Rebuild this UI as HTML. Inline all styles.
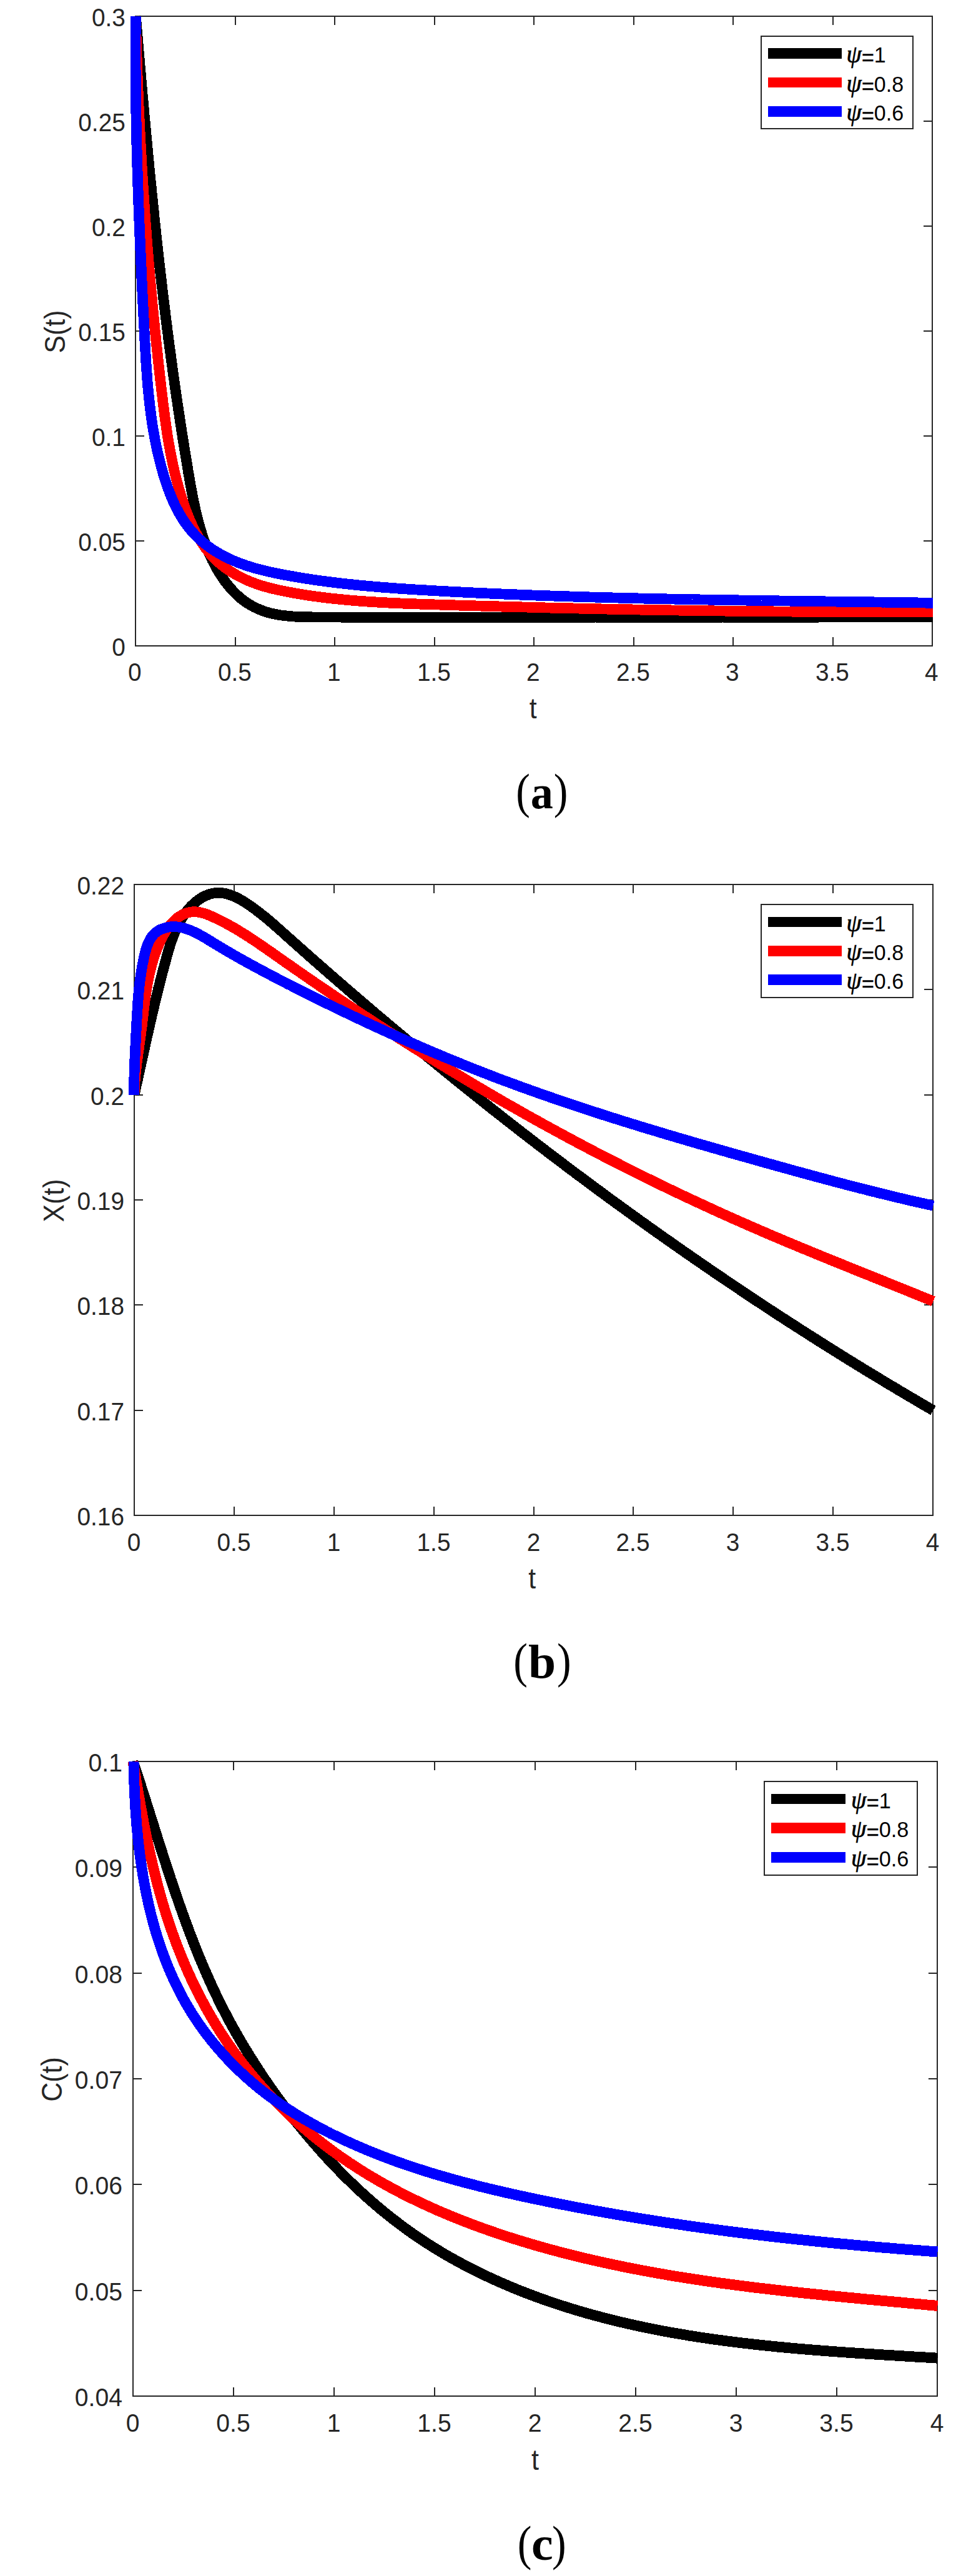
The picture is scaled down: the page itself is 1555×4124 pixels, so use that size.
<!DOCTYPE html>
<html><head><meta charset="utf-8"><title>Figure</title>
<style>
html,body{margin:0;padding:0;background:#fff;}
svg{display:block;font-family:"Liberation Sans",sans-serif;}
.psi{font-family:"Liberation Serif",serif;font-style:italic;stroke:#000;stroke-width:0.7px;}
.cap{font-family:"Liberation Serif",serif;fill:#000;}
.capb{font-weight:bold;font-size:76px;}
</style></head><body>
<svg width="1555" height="4124" viewBox="0 0 1555 4124">
<rect width="1555" height="4124" fill="#fff"/>
<rect x="217" y="26" width="1276" height="1008" fill="none" stroke="#262626" stroke-width="2"/>
<path d="M377 1034 v-14.0 M377 26 v14.0 M536 1034 v-14.0 M536 26 v14.0 M696 1034 v-14.0 M696 26 v14.0 M855 1034 v-14.0 M855 26 v14.0 M1015 1034 v-14.0 M1015 26 v14.0 M1174 1034 v-14.0 M1174 26 v14.0 M1334 1034 v-14.0 M1334 26 v14.0 M217 194 h14.0 M1493 194 h-14.0 M217 362 h14.0 M1493 362 h-14.0 M217 530 h14.0 M1493 530 h-14.0 M217 698 h14.0 M1493 698 h-14.0 M217 866 h14.0 M1493 866 h-14.0" stroke="#262626" stroke-width="2" fill="none"/>
<g fill="#262626">
<text transform="translate(215.9 1090.0) scale(1 1.035)" text-anchor="middle" font-size="38.8">0</text>
<text transform="translate(375.9 1090.0) scale(1 1.035)" text-anchor="middle" font-size="38.8">0.5</text>
<text transform="translate(534.9 1090.0) scale(1 1.035)" text-anchor="middle" font-size="38.8">1</text>
<text transform="translate(694.9 1090.0) scale(1 1.035)" text-anchor="middle" font-size="38.8">1.5</text>
<text transform="translate(853.9 1090.0) scale(1 1.035)" text-anchor="middle" font-size="38.8">2</text>
<text transform="translate(1013.9 1090.0) scale(1 1.035)" text-anchor="middle" font-size="38.8">2.5</text>
<text transform="translate(1172.9 1090.0) scale(1 1.035)" text-anchor="middle" font-size="38.8">3</text>
<text transform="translate(1332.9 1090.0) scale(1 1.035)" text-anchor="middle" font-size="38.8">3.5</text>
<text transform="translate(1491.9 1090.0) scale(1 1.035)" text-anchor="middle" font-size="38.8">4</text>
<text transform="translate(200.8 41.6) scale(1 1.035)" text-anchor="end" font-size="38.8">0.3</text>
<text transform="translate(200.8 209.6) scale(1 1.035)" text-anchor="end" font-size="38.8">0.25</text>
<text transform="translate(200.8 377.6) scale(1 1.035)" text-anchor="end" font-size="38.8">0.2</text>
<text transform="translate(200.8 545.6) scale(1 1.035)" text-anchor="end" font-size="38.8">0.15</text>
<text transform="translate(200.8 713.6) scale(1 1.035)" text-anchor="end" font-size="38.8">0.1</text>
<text transform="translate(200.8 881.6) scale(1 1.035)" text-anchor="end" font-size="38.8">0.05</text>
<text transform="translate(200.8 1049.6) scale(1 1.035)" text-anchor="end" font-size="38.8">0</text>
<text transform="translate(853.7 1149.6) scale(1 1.08)" text-anchor="middle" font-size="42.7">t</text>
<text transform="translate(103.7 531.0) rotate(-90) scale(1 1.08)" text-anchor="middle" font-size="42.7">S(t)</text>
</g>
<path d="M217.3 26.0 L217.7 30.2 L218.0 34.4 L218.4 38.5 L218.7 42.7 L219.1 46.9 L219.4 51.1 L219.8 55.3 L220.2 59.4 L220.5 63.6 L220.9 67.8 L221.2 72.0 L221.6 76.1 L221.9 80.3 L222.3 84.5 L222.7 88.6 L223.0 92.8 L223.4 96.9 L223.8 101.1 L224.1 105.3 L224.5 109.4 L224.8 113.6 L225.2 117.7 L225.6 121.9 L225.9 126.1 L226.3 130.2 L226.7 134.4 L227.0 138.5 L227.4 142.7 L227.8 146.8 L228.1 151.0 L228.5 155.1 L228.9 159.2 L229.3 163.4 L229.6 167.5 L230.0 171.7 L230.4 175.8 L230.8 180.0 L231.1 184.1 L231.5 188.2 L231.9 192.4 L232.3 196.5 L232.7 200.6 L233.0 204.8 L233.4 208.9 L233.8 213.1 L234.2 217.2 L234.6 221.3 L235.0 225.4 L235.4 229.6 L235.8 233.7 L236.1 237.8 L236.5 242.0 L236.9 246.1 L237.3 250.2 L237.7 254.3 L238.1 258.5 L238.5 262.6 L238.9 266.7 L239.3 270.8 L239.7 275.0 L240.1 279.1 L240.5 283.2 L240.9 287.3 L241.4 291.4 L241.8 295.6 L242.2 299.7 L242.6 303.8 L243.0 307.9 L243.4 312.0 L243.8 316.1 L244.3 320.3 L244.7 324.4 L245.1 328.5 L245.5 332.6 L246.0 336.7 L246.4 340.8 L246.8 345.0 L247.2 349.1 L247.7 353.2 L248.1 357.3 L248.5 361.4 L249.0 365.5 L249.4 369.6 L249.9 373.7 L250.3 377.8 L250.8 382.0 L251.2 386.1 L251.7 390.2 L252.1 394.3 L252.6 398.4 L253.0 402.5 L253.5 406.6 L253.9 410.7 L254.4 414.8 L254.9 418.9 L255.3 423.0 L255.8 427.2 L256.3 431.3 L256.7 435.4 L257.2 439.5 L257.7 443.6 L258.2 447.7 L258.6 451.8 L259.1 455.9 L259.6 460.0 L260.1 464.1 L260.6 468.2 L261.1 472.3 L261.6 476.4 L262.1 480.6 L262.6 484.7 L263.1 488.8 L263.6 492.9 L264.1 497.0 L264.6 501.1 L265.1 505.2 L265.6 509.3 L266.1 513.4 L266.7 517.5 L267.2 521.6 L267.7 525.7 L268.2 529.9 L268.8 534.0 L269.3 538.1 L269.8 542.2 L270.4 546.3 L270.9 550.4 L271.4 554.5 L272.0 558.6 L272.5 562.7 L273.1 566.8 L273.6 571.0 L274.2 575.1 L274.8 579.2 L275.3 583.3 L275.9 587.4 L276.4 591.5 L277.0 595.6 L277.6 599.8 L278.2 603.9 L278.8 608.0 L279.3 612.1 L279.9 616.2 L280.5 620.3 L281.1 624.5 L281.7 628.6 L282.3 632.7 L282.9 636.8 L283.5 640.9 L284.1 645.1 L284.7 649.2 L285.3 653.3 L285.9 657.4 L286.6 661.6 L287.2 665.7 L287.8 669.8 L288.4 673.9 L289.1 678.1 L289.7 682.2 L290.3 686.3 L291.0 690.4 L291.6 694.6 L292.3 698.7 L292.9 702.8 L293.6 707.0 L294.3 711.1 L294.9 715.2 L295.6 719.4 L296.3 723.5 L296.9 727.6 L297.6 731.8 L298.3 735.9 L299.0 740.1 L299.7 744.2 L300.4 748.3 L301.0 752.5 L301.7 756.6 L302.4 760.8 L303.2 764.9 L303.9 769.1 L304.6 773.2 L305.3 777.3 L306.1 781.5 L306.8 785.6 L307.6 789.7 L308.4 793.9 L309.2 798.0 L310.0 802.1 L310.9 806.2 L311.7 810.3 L312.6 814.4 L313.6 818.5 L314.5 822.5 L315.5 826.6 L316.5 830.7 L317.5 834.7 L318.6 838.7 L319.7 842.7 L320.9 846.7 L322.1 850.7 L323.3 854.6 L324.6 858.6 L325.9 862.5 L327.3 866.4 L328.7 870.3 L330.2 874.2 L331.7 878.0 L333.2 881.8 L334.9 885.6 L336.6 889.4 L338.3 893.2 L340.1 896.9 L342.0 900.6 L343.9 904.3 L345.9 907.9 L347.9 911.5 L350.0 915.1 L352.2 918.7 L354.5 922.2 L356.8 925.7 L359.2 929.1 L361.7 932.5 L364.3 935.8 L366.9 939.0 L369.6 942.2 L372.3 945.2 L375.2 948.2 L378.1 951.1 L381.1 953.9 L384.1 956.6 L387.3 959.2 L390.5 961.7 L393.8 964.0 L397.1 966.2 L400.6 968.3 L404.1 970.3 L407.6 972.2 L411.2 973.9 L414.9 975.5 L418.6 977.0 L422.3 978.4 L426.1 979.6 L430.0 980.8 L433.8 981.8 L437.8 982.7 L441.7 983.5 L445.7 984.2 L449.7 984.9 L453.8 985.4 L457.9 985.9 L462.0 986.3 L466.1 986.7 L470.3 987.0 L474.4 987.2 L478.6 987.4 L482.8 987.6 L487.0 987.7 L491.2 987.8 L495.4 987.8 L499.7 987.9 L503.9 987.9 L508.1 987.9 L512.4 987.9 L516.6 988.0 L520.8 988.0 L525.1 988.0 L529.3 988.0 L533.5 988.0 L537.7 988.0 L541.9 988.0 L546.1 988.1 L550.4 988.1 L554.6 988.1 L558.8 988.1 L563.0 988.1 L567.2 988.1 L571.4 988.1 L575.6 988.1 L579.8 988.2 L584.0 988.2 L588.2 988.2 L592.4 988.2 L596.6 988.2 L600.7 988.2 L604.9 988.2 L609.1 988.2 L613.3 988.2 L617.5 988.2 L621.7 988.2 L625.9 988.2 L630.0 988.3 L634.2 988.3 L638.4 988.3 L642.6 988.3 L646.7 988.3 L650.9 988.3 L655.1 988.3 L659.2 988.3 L663.4 988.3 L667.6 988.3 L671.7 988.3 L675.9 988.3 L680.1 988.3 L684.2 988.3 L688.4 988.3 L692.5 988.3 L696.7 988.3 L700.9 988.3 L705.0 988.3 L709.2 988.3 L713.3 988.3 L717.5 988.3 L721.6 988.3 L725.8 988.3 L729.9 988.3 L734.1 988.3 L738.2 988.3 L742.4 988.3 L746.5 988.3 L750.7 988.3 L754.8 988.3 L759.0 988.3 L763.1 988.3 L767.2 988.3 L771.4 988.3 L775.5 988.3 L779.7 988.3 L783.8 988.3 L788.0 988.3 L792.1 988.3 L796.2 988.3 L800.4 988.3 L804.5 988.3 L808.6 988.3 L812.8 988.3 L816.9 988.3 L821.1 988.3 L825.2 988.3 L829.3 988.3 L833.5 988.2 L837.6 988.2 L841.7 988.2 L845.9 988.2 L850.0 988.2 L854.2 988.2 L858.3 988.2 L862.4 988.2 L866.6 988.2 L870.7 988.2 L874.8 988.2 L879.0 988.2 L883.1 988.2 L887.3 988.2 L891.4 988.2 L895.5 988.2 L899.7 988.2 L903.8 988.2 L907.9 988.2 L912.1 988.2 L916.2 988.2 L920.4 988.2 L924.5 988.2 L928.6 988.2 L932.8 988.2 L936.9 988.2 L941.1 988.2 L945.2 988.2 L949.3 988.2 L953.5 988.1 L957.6 988.1 L961.8 988.1 L965.9 988.1 L970.1 988.1 L974.2 988.1 L978.4 988.1 L982.5 988.1 L986.7 988.1 L990.8 988.1 L995.0 988.1 L999.1 988.1 L1003.3 988.1 L1007.4 988.1 L1011.6 988.1 L1015.7 988.1 L1019.9 988.1 L1024.0 988.1 L1028.2 988.1 L1032.3 988.1 L1036.5 988.1 L1040.7 988.1 L1044.8 988.1 L1049.0 988.1 L1053.1 988.1 L1057.3 988.1 L1061.4 988.1 L1065.6 988.1 L1069.8 988.1 L1073.9 988.1 L1078.1 988.1 L1082.2 988.1 L1086.4 988.1 L1090.6 988.1 L1094.7 988.1 L1098.9 988.1 L1103.1 988.1 L1107.2 988.1 L1111.4 988.1 L1115.6 988.1 L1119.7 988.1 L1123.9 988.1 L1128.0 988.1 L1132.2 988.1 L1136.4 988.1 L1140.5 988.1 L1144.7 988.1 L1148.9 988.1 L1153.0 988.1 L1157.2 988.1 L1161.4 988.2 L1165.5 988.2 L1169.7 988.2 L1173.9 988.2 L1178.0 988.1 L1182.2 988.1 L1186.4 988.1 L1190.5 988.1 L1194.7 988.1 L1198.9 988.1 L1203.1 988.1 L1207.2 988.1 L1211.4 988.1 L1215.6 988.1 L1219.7 988.1 L1223.9 988.1 L1228.1 988.1 L1232.2 988.1 L1236.4 988.1 L1240.6 988.1 L1244.7 988.1 L1248.9 988.1 L1253.1 988.1 L1257.2 988.1 L1261.4 988.1 L1265.6 988.1 L1269.7 988.1 L1273.9 988.1 L1278.1 988.1 L1282.2 988.1 L1286.4 988.1 L1290.6 988.1 L1294.7 988.1 L1298.9 988.1 L1303.0 988.1 L1307.2 988.1 L1311.4 988.1 L1315.5 988.0 L1319.7 988.0 L1323.9 988.0 L1328.0 988.0 L1332.2 988.0 L1336.3 988.0 L1340.5 988.0 L1344.7 988.0 L1348.8 988.0 L1353.0 988.0 L1357.1 988.0 L1361.3 988.0 L1365.5 987.9 L1369.6 987.9 L1373.8 987.9 L1377.9 987.9 L1382.1 987.9 L1386.2 987.9 L1390.4 987.9 L1394.5 987.9 L1398.7 987.8 L1402.8 987.8 L1407.0 987.8 L1411.1 987.8 L1415.3 987.8 L1419.4 987.8 L1423.6 987.8 L1427.7 987.7 L1431.9 987.7 L1436.0 987.7 L1440.2 987.7 L1444.3 987.7 L1448.5 987.6 L1452.6 987.6 L1456.8 987.6 L1460.9 987.6 L1465.0 987.6 L1469.2 987.5 L1473.3 987.5 L1477.5 987.5 L1481.6 987.5 L1485.7 987.4 L1489.9 987.4 L1494.0 987.4" fill="none" stroke="#000" stroke-width="16.80" stroke-linejoin="round" shape-rendering="crispEdges"/>
<path d="M217.3 26.0 L217.4 30.1 L217.5 34.2 L217.6 38.3 L217.7 42.5 L217.8 46.6 L217.9 50.7 L218.0 54.8 L218.1 58.9 L218.2 63.0 L218.4 67.1 L218.5 71.2 L218.6 75.4 L218.7 79.5 L218.9 83.6 L219.0 87.7 L219.1 91.8 L219.3 95.9 L219.4 100.0 L219.5 104.1 L219.7 108.2 L219.8 112.4 L220.0 116.5 L220.1 120.6 L220.3 124.7 L220.4 128.8 L220.6 132.9 L220.7 137.0 L220.9 141.1 L221.1 145.3 L221.2 149.4 L221.4 153.5 L221.6 157.6 L221.8 161.7 L222.0 165.8 L222.1 169.9 L222.3 174.0 L222.5 178.1 L222.7 182.3 L222.9 186.4 L223.1 190.5 L223.3 194.6 L223.5 198.7 L223.7 202.8 L223.9 206.9 L224.1 211.0 L224.3 215.1 L224.5 219.2 L224.7 223.4 L225.0 227.5 L225.2 231.6 L225.4 235.7 L225.6 239.8 L225.9 243.9 L226.1 248.0 L226.3 252.1 L226.6 256.2 L226.8 260.3 L227.0 264.4 L227.3 268.5 L227.5 272.7 L227.8 276.8 L228.0 280.9 L228.3 285.0 L228.6 289.1 L228.8 293.2 L229.1 297.3 L229.3 301.4 L229.6 305.5 L229.9 309.6 L230.2 313.7 L230.4 317.8 L230.7 321.9 L231.0 326.0 L231.3 330.1 L231.6 334.2 L231.9 338.3 L232.1 342.4 L232.4 346.6 L232.7 350.7 L233.0 354.8 L233.3 358.9 L233.6 363.0 L234.0 367.1 L234.3 371.2 L234.6 375.3 L234.9 379.4 L235.2 383.5 L235.5 387.6 L235.9 391.7 L236.2 395.8 L236.5 399.9 L236.8 404.0 L237.2 408.1 L237.5 412.2 L237.9 416.3 L238.2 420.4 L238.5 424.5 L238.9 428.6 L239.2 432.7 L239.6 436.8 L239.9 440.9 L240.3 445.0 L240.7 449.1 L241.0 453.2 L241.4 457.3 L241.8 461.4 L242.1 465.4 L242.5 469.5 L242.9 473.6 L243.3 477.7 L243.7 481.8 L244.0 485.9 L244.4 490.0 L244.8 494.1 L245.2 498.2 L245.6 502.3 L246.0 506.4 L246.4 510.5 L246.8 514.6 L247.2 518.7 L247.6 522.8 L248.0 526.8 L248.4 530.9 L248.9 535.0 L249.3 539.1 L249.7 543.2 L250.1 547.3 L250.6 551.4 L251.0 555.5 L251.4 559.6 L251.9 563.6 L252.3 567.7 L252.7 571.8 L253.2 575.9 L253.6 580.0 L254.1 584.1 L254.5 588.2 L255.0 592.2 L255.4 596.3 L255.9 600.4 L256.4 604.5 L256.8 608.6 L257.3 612.7 L257.8 616.7 L258.2 620.8 L258.7 624.9 L259.2 629.0 L259.7 633.1 L260.2 637.1 L260.6 641.2 L261.1 645.3 L261.6 649.4 L262.2 653.5 L262.7 657.5 L263.2 661.6 L263.7 665.7 L264.3 669.8 L264.8 673.8 L265.4 677.9 L266.0 682.0 L266.6 686.0 L267.2 690.1 L267.8 694.2 L268.4 698.2 L269.1 702.3 L269.8 706.3 L270.4 710.4 L271.2 714.4 L271.9 718.5 L272.6 722.5 L273.4 726.6 L274.2 730.6 L275.0 734.6 L275.8 738.7 L276.7 742.7 L277.5 746.7 L278.5 750.8 L279.4 754.8 L280.3 758.8 L281.3 762.8 L282.3 766.8 L283.4 770.8 L284.5 774.8 L285.6 778.8 L286.7 782.8 L287.9 786.8 L289.1 790.8 L290.3 794.8 L291.6 798.8 L292.9 802.8 L294.2 806.7 L295.6 810.7 L297.0 814.6 L298.4 818.6 L299.9 822.5 L301.5 826.4 L303.1 830.2 L304.7 834.1 L306.4 837.9 L308.1 841.7 L309.9 845.4 L311.8 849.1 L313.7 852.8 L315.7 856.4 L317.7 860.0 L319.8 863.5 L322.0 867.0 L324.2 870.4 L326.5 873.7 L328.8 877.0 L331.3 880.2 L333.8 883.4 L336.4 886.5 L339.0 889.5 L341.8 892.4 L344.6 895.3 L347.5 898.0 L350.4 900.7 L353.5 903.3 L356.6 905.8 L359.8 908.3 L363.1 910.7 L366.4 913.0 L369.8 915.2 L373.2 917.3 L376.7 919.4 L380.3 921.4 L383.9 923.3 L387.5 925.1 L391.2 926.9 L394.9 928.6 L398.7 930.2 L402.5 931.8 L406.4 933.2 L410.2 934.7 L414.2 936.0 L418.1 937.3 L422.0 938.5 L426.0 939.6 L430.0 940.7 L434.0 941.8 L438.1 942.7 L442.1 943.7 L446.2 944.6 L450.2 945.5 L454.3 946.3 L458.4 947.1 L462.5 947.9 L466.5 948.6 L470.6 949.4 L474.7 950.1 L478.8 950.8 L482.8 951.5 L486.9 952.1 L491.0 952.8 L495.1 953.4 L499.2 954.0 L503.3 954.6 L507.4 955.1 L511.4 955.7 L515.5 956.2 L519.6 956.7 L523.7 957.2 L527.8 957.7 L531.9 958.1 L536.0 958.6 L540.1 959.0 L544.2 959.4 L548.3 959.8 L552.4 960.2 L556.5 960.6 L560.6 961.0 L564.7 961.3 L568.8 961.7 L572.9 962.0 L577.0 962.3 L581.1 962.6 L585.2 962.9 L589.3 963.2 L593.4 963.4 L597.5 963.7 L601.6 963.9 L605.7 964.2 L609.8 964.4 L613.9 964.6 L618.0 964.8 L622.1 965.1 L626.2 965.3 L630.3 965.4 L634.4 965.6 L638.5 965.8 L642.6 966.0 L646.8 966.2 L650.9 966.3 L655.0 966.5 L659.1 966.6 L663.2 966.8 L667.3 966.9 L671.4 967.1 L675.5 967.2 L679.6 967.3 L683.7 967.5 L687.8 967.6 L692.0 967.7 L696.1 967.9 L700.2 968.0 L704.3 968.1 L708.4 968.3 L712.5 968.4 L716.6 968.5 L720.7 968.7 L724.8 968.8 L728.9 968.9 L733.1 969.0 L737.2 969.2 L741.3 969.3 L745.4 969.4 L749.5 969.5 L753.6 969.6 L757.7 969.8 L761.8 969.9 L765.9 970.0 L770.1 970.1 L774.2 970.2 L778.3 970.4 L782.4 970.5 L786.5 970.6 L790.6 970.7 L794.7 970.8 L798.8 970.9 L802.9 971.1 L807.1 971.2 L811.2 971.3 L815.3 971.4 L819.4 971.5 L823.5 971.6 L827.6 971.7 L831.7 971.8 L835.8 971.9 L839.9 972.0 L844.1 972.1 L848.2 972.3 L852.3 972.4 L856.4 972.5 L860.5 972.6 L864.6 972.7 L868.7 972.8 L872.8 972.9 L877.0 973.0 L881.1 973.1 L885.2 973.2 L889.3 973.3 L893.4 973.4 L897.5 973.5 L901.6 973.6 L905.7 973.6 L909.9 973.7 L914.0 973.8 L918.1 973.9 L922.2 974.0 L926.3 974.1 L930.4 974.2 L934.5 974.3 L938.6 974.4 L942.8 974.5 L946.9 974.6 L951.0 974.6 L955.1 974.7 L959.2 974.8 L963.3 974.9 L967.4 975.0 L971.5 975.1 L975.7 975.1 L979.8 975.2 L983.9 975.3 L988.0 975.4 L992.1 975.5 L996.2 975.6 L1000.3 975.6 L1004.4 975.7 L1008.6 975.8 L1012.7 975.9 L1016.8 975.9 L1020.9 976.0 L1025.0 976.1 L1029.1 976.2 L1033.2 976.2 L1037.4 976.3 L1041.5 976.4 L1045.6 976.4 L1049.7 976.5 L1053.8 976.6 L1057.9 976.6 L1062.0 976.7 L1066.1 976.8 L1070.3 976.8 L1074.4 976.9 L1078.5 977.0 L1082.6 977.0 L1086.7 977.1 L1090.8 977.2 L1094.9 977.2 L1099.1 977.3 L1103.2 977.3 L1107.3 977.4 L1111.4 977.5 L1115.5 977.5 L1119.6 977.6 L1123.7 977.6 L1127.9 977.7 L1132.0 977.7 L1136.1 977.8 L1140.2 977.8 L1144.3 977.9 L1148.4 977.9 L1152.5 978.0 L1156.6 978.0 L1160.8 978.1 L1164.9 978.1 L1169.0 978.2 L1173.1 978.2 L1177.2 978.3 L1181.3 978.3 L1185.4 978.4 L1189.6 978.4 L1193.7 978.4 L1197.8 978.5 L1201.9 978.5 L1206.0 978.6 L1210.1 978.6 L1214.2 978.6 L1218.4 978.7 L1222.5 978.7 L1226.6 978.8 L1230.7 978.8 L1234.8 978.8 L1238.9 978.9 L1243.0 978.9 L1247.2 978.9 L1251.3 979.0 L1255.4 979.0 L1259.5 979.0 L1263.6 979.0 L1267.7 979.1 L1271.8 979.1 L1276.0 979.1 L1280.1 979.2 L1284.2 979.2 L1288.3 979.2 L1292.4 979.2 L1296.5 979.2 L1300.6 979.3 L1304.8 979.3 L1308.9 979.3 L1313.0 979.3 L1317.1 979.4 L1321.2 979.4 L1325.3 979.4 L1329.4 979.4 L1333.6 979.4 L1337.7 979.4 L1341.8 979.4 L1345.9 979.5 L1350.0 979.5 L1354.1 979.5 L1358.2 979.5 L1362.4 979.5 L1366.5 979.5 L1370.6 979.5 L1374.7 979.5 L1378.8 979.5 L1382.9 979.5 L1387.0 979.5 L1391.1 979.6 L1395.3 979.6 L1399.4 979.6 L1403.5 979.6 L1407.6 979.6 L1411.7 979.6 L1415.8 979.6 L1419.9 979.6 L1424.1 979.6 L1428.2 979.6 L1432.3 979.6 L1436.4 979.5 L1440.5 979.5 L1444.6 979.5 L1448.7 979.5 L1452.9 979.5 L1457.0 979.5 L1461.1 979.5 L1465.2 979.5 L1469.3 979.5 L1473.4 979.5 L1477.5 979.5 L1481.7 979.4 L1485.8 979.4 L1489.9 979.4 L1494.0 979.4" fill="none" stroke="#f00" stroke-width="16.80" stroke-linejoin="round" shape-rendering="crispEdges"/>
<path d="M217.3 26.0 L217.3 30.1 L217.2 34.3 L217.2 38.4 L217.1 42.5 L217.1 46.6 L217.1 50.7 L217.1 54.9 L217.0 59.0 L217.0 63.1 L217.0 67.2 L217.0 71.3 L217.0 75.4 L217.0 79.6 L217.0 83.7 L217.0 87.8 L217.0 91.9 L217.0 96.0 L217.0 100.1 L217.0 104.2 L217.0 108.3 L217.1 112.4 L217.1 116.5 L217.1 120.6 L217.1 124.8 L217.2 128.9 L217.2 133.0 L217.2 137.1 L217.3 141.2 L217.3 145.3 L217.4 149.4 L217.4 153.5 L217.5 157.6 L217.5 161.7 L217.6 165.8 L217.7 169.9 L217.7 174.0 L217.8 178.1 L217.9 182.2 L217.9 186.2 L218.0 190.3 L218.1 194.4 L218.2 198.5 L218.3 202.6 L218.3 206.7 L218.4 210.8 L218.5 214.9 L218.6 219.0 L218.7 223.1 L218.8 227.2 L218.9 231.3 L219.0 235.4 L219.1 239.5 L219.2 243.5 L219.3 247.6 L219.4 251.7 L219.6 255.8 L219.7 259.9 L219.8 264.0 L219.9 268.1 L220.0 272.2 L220.2 276.3 L220.3 280.3 L220.4 284.4 L220.6 288.5 L220.7 292.6 L220.8 296.7 L221.0 300.8 L221.1 304.9 L221.2 309.0 L221.4 313.1 L221.5 317.1 L221.7 321.2 L221.8 325.3 L222.0 329.4 L222.1 333.5 L222.3 337.6 L222.4 341.7 L222.6 345.8 L222.8 349.8 L222.9 353.9 L223.1 358.0 L223.2 362.1 L223.4 366.2 L223.6 370.3 L223.8 374.4 L223.9 378.5 L224.1 382.5 L224.3 386.6 L224.4 390.7 L224.6 394.8 L224.8 398.9 L225.0 403.0 L225.2 407.1 L225.3 411.2 L225.5 415.3 L225.7 419.4 L225.9 423.5 L226.1 427.5 L226.3 431.6 L226.5 435.7 L226.7 439.8 L226.8 443.9 L227.0 448.0 L227.2 452.1 L227.4 456.2 L227.6 460.3 L227.8 464.4 L228.0 468.5 L228.2 472.6 L228.4 476.7 L228.6 480.8 L228.8 484.9 L229.0 489.0 L229.2 493.1 L229.4 497.2 L229.6 501.3 L229.8 505.4 L230.1 509.5 L230.3 513.6 L230.5 517.7 L230.7 521.8 L230.9 525.9 L231.1 530.0 L231.3 534.1 L231.5 538.2 L231.7 542.3 L232.0 546.4 L232.2 550.6 L232.4 554.7 L232.6 558.8 L232.9 562.9 L233.1 567.0 L233.3 571.1 L233.6 575.2 L233.8 579.3 L234.1 583.4 L234.4 587.5 L234.7 591.6 L235.0 595.7 L235.3 599.9 L235.6 604.0 L235.9 608.1 L236.2 612.2 L236.6 616.3 L236.9 620.4 L237.3 624.5 L237.7 628.5 L238.1 632.6 L238.5 636.7 L239.0 640.8 L239.4 644.9 L239.9 649.0 L240.4 653.1 L240.9 657.1 L241.4 661.2 L241.9 665.3 L242.5 669.4 L243.1 673.4 L243.7 677.5 L244.3 681.6 L245.0 685.6 L245.7 689.7 L246.4 693.7 L247.1 697.8 L247.8 701.8 L248.6 705.9 L249.4 709.9 L250.2 713.9 L251.1 718.0 L252.0 722.0 L252.9 726.0 L253.8 730.0 L254.8 734.0 L255.8 738.0 L256.8 742.0 L257.9 746.0 L259.0 750.0 L260.1 754.0 L261.2 758.0 L262.4 762.0 L263.7 765.9 L264.9 769.9 L266.2 773.8 L267.6 777.7 L269.0 781.7 L270.4 785.5 L271.9 789.4 L273.4 793.3 L275.0 797.1 L276.6 800.8 L278.3 804.6 L280.0 808.3 L281.8 812.0 L283.7 815.6 L285.6 819.2 L287.5 822.7 L289.6 826.2 L291.7 829.7 L293.8 833.0 L296.1 836.4 L298.4 839.6 L300.8 842.9 L303.2 846.0 L305.8 849.1 L308.4 852.1 L311.1 855.0 L313.8 857.9 L316.7 860.7 L319.6 863.4 L322.6 866.0 L325.6 868.6 L328.7 871.1 L331.9 873.6 L335.2 875.9 L338.5 878.3 L341.8 880.5 L345.2 882.7 L348.7 884.8 L352.2 886.8 L355.7 888.8 L359.3 890.7 L363.0 892.5 L366.7 894.3 L370.4 896.0 L374.1 897.7 L377.9 899.2 L381.7 900.8 L385.6 902.2 L389.5 903.6 L393.4 905.0 L397.3 906.3 L401.2 907.5 L405.2 908.7 L409.2 909.9 L413.2 911.0 L417.2 912.0 L421.3 913.0 L425.3 914.0 L429.4 915.0 L433.5 915.9 L437.6 916.8 L441.7 917.6 L445.7 918.5 L449.8 919.3 L454.0 920.1 L458.1 920.8 L462.2 921.6 L466.3 922.3 L470.4 923.0 L474.5 923.7 L478.6 924.4 L482.6 925.1 L486.7 925.8 L490.8 926.4 L494.9 927.0 L499.0 927.7 L503.1 928.3 L507.2 928.9 L511.3 929.4 L515.4 930.0 L519.4 930.5 L523.5 931.1 L527.6 931.6 L531.7 932.1 L535.8 932.6 L539.8 933.1 L543.9 933.6 L548.0 934.1 L552.1 934.5 L556.2 935.0 L560.2 935.4 L564.3 935.8 L568.4 936.3 L572.5 936.7 L576.5 937.1 L580.6 937.5 L584.7 937.8 L588.7 938.2 L592.8 938.6 L596.9 938.9 L600.9 939.3 L605.0 939.6 L609.1 940.0 L613.2 940.3 L617.2 940.6 L621.3 940.9 L625.4 941.2 L629.4 941.5 L633.5 941.8 L637.6 942.1 L641.6 942.4 L645.7 942.7 L649.8 942.9 L653.9 943.2 L657.9 943.5 L662.0 943.7 L666.1 944.0 L670.1 944.2 L674.2 944.5 L678.3 944.7 L682.4 944.9 L686.4 945.2 L690.5 945.4 L694.6 945.6 L698.7 945.9 L702.7 946.1 L706.8 946.3 L710.9 946.5 L715.0 946.7 L719.0 947.0 L723.1 947.2 L727.2 947.4 L731.3 947.6 L735.4 947.8 L739.4 948.0 L743.5 948.2 L747.6 948.4 L751.7 948.6 L755.8 948.8 L759.9 949.0 L763.9 949.2 L768.0 949.4 L772.1 949.6 L776.2 949.8 L780.3 949.9 L784.4 950.1 L788.5 950.3 L792.6 950.5 L796.7 950.7 L800.7 950.8 L804.8 951.0 L808.9 951.2 L813.0 951.4 L817.1 951.5 L821.2 951.7 L825.3 951.8 L829.4 952.0 L833.5 952.2 L837.6 952.3 L841.7 952.5 L845.8 952.6 L849.9 952.8 L854.0 953.0 L858.1 953.1 L862.2 953.2 L866.3 953.4 L870.4 953.5 L874.5 953.7 L878.6 953.8 L882.7 954.0 L886.8 954.1 L890.9 954.2 L895.0 954.4 L899.1 954.5 L903.2 954.6 L907.3 954.8 L911.4 954.9 L915.5 955.0 L919.6 955.2 L923.7 955.3 L927.8 955.4 L931.9 955.5 L936.0 955.7 L940.1 955.8 L944.2 955.9 L948.3 956.0 L952.4 956.1 L956.5 956.2 L960.6 956.4 L964.7 956.5 L968.8 956.6 L972.9 956.7 L977.0 956.8 L981.2 956.9 L985.3 957.0 L989.4 957.1 L993.5 957.2 L997.6 957.3 L1001.7 957.4 L1005.8 957.5 L1009.9 957.6 L1014.0 957.7 L1018.1 957.8 L1022.2 957.9 L1026.3 958.0 L1030.5 958.1 L1034.6 958.2 L1038.7 958.3 L1042.8 958.4 L1046.9 958.4 L1051.0 958.5 L1055.1 958.6 L1059.2 958.7 L1063.3 958.8 L1067.4 958.9 L1071.5 959.0 L1075.7 959.0 L1079.8 959.1 L1083.9 959.2 L1088.0 959.3 L1092.1 959.4 L1096.2 959.4 L1100.3 959.5 L1104.4 959.6 L1108.5 959.7 L1112.7 959.7 L1116.8 959.8 L1120.9 959.9 L1125.0 960.0 L1129.1 960.0 L1133.2 960.1 L1137.3 960.2 L1141.4 960.2 L1145.5 960.3 L1149.6 960.4 L1153.8 960.4 L1157.9 960.5 L1162.0 960.6 L1166.1 960.6 L1170.2 960.7 L1174.3 960.8 L1178.4 960.8 L1182.5 960.9 L1186.6 961.0 L1190.7 961.0 L1194.9 961.1 L1199.0 961.1 L1203.1 961.2 L1207.2 961.3 L1211.3 961.3 L1215.4 961.4 L1219.5 961.5 L1223.6 961.5 L1227.7 961.6 L1231.8 961.6 L1235.9 961.7 L1240.0 961.7 L1244.2 961.8 L1248.3 961.9 L1252.4 961.9 L1256.5 962.0 L1260.6 962.0 L1264.7 962.1 L1268.8 962.1 L1272.9 962.2 L1277.0 962.2 L1281.1 962.3 L1285.2 962.4 L1289.3 962.4 L1293.4 962.5 L1297.5 962.5 L1301.6 962.6 L1305.7 962.6 L1309.8 962.7 L1313.9 962.7 L1318.0 962.8 L1322.1 962.9 L1326.2 962.9 L1330.3 963.0 L1334.4 963.0 L1338.5 963.1 L1342.6 963.1 L1346.7 963.2 L1350.8 963.2 L1354.9 963.3 L1359.0 963.3 L1363.1 963.4 L1367.2 963.4 L1371.3 963.5 L1375.4 963.6 L1379.5 963.6 L1383.6 963.7 L1387.7 963.7 L1391.8 963.8 L1395.9 963.8 L1400.0 963.9 L1404.1 964.0 L1408.2 964.0 L1412.3 964.1 L1416.4 964.1 L1420.5 964.2 L1424.5 964.2 L1428.6 964.3 L1432.7 964.4 L1436.8 964.4 L1440.9 964.5 L1445.0 964.5 L1449.1 964.6 L1453.2 964.7 L1457.3 964.7 L1461.3 964.8 L1465.4 964.8 L1469.5 964.9 L1473.6 965.0 L1477.7 965.0 L1481.8 965.1 L1485.8 965.2 L1489.9 965.2 L1494.0 965.3" fill="none" stroke="#00f" stroke-width="16.80" stroke-linejoin="round" shape-rendering="crispEdges"/>
<rect x="1219" y="58" width="243" height="148" fill="#fff" stroke="#262626" stroke-width="2"/>
<path d="M1230 85.5 H1348" stroke="#000" stroke-width="17"/>
<text transform="translate(1355.5 100.3) scale(1 1.035)" font-size="34.00" fill="#000"><tspan class="psi" font-size="39.0">ψ</tspan><tspan dx="0.3" dy="3.3" stroke="#000" stroke-width="0.5">=</tspan><tspan dy="-3.3">1</tspan></text>
<path d="M1230 132 H1348" stroke="#f00" stroke-width="16"/>
<text transform="translate(1355.5 146.8) scale(1 1.035)" font-size="34.00" fill="#000"><tspan class="psi" font-size="39.0">ψ</tspan><tspan dx="0.3" dy="3.3" stroke="#000" stroke-width="0.5">=</tspan><tspan dy="-3.3">0.8</tspan></text>
<path d="M1230 178.5 H1348" stroke="#00f" stroke-width="17"/>
<text transform="translate(1355.5 193.3) scale(1 1.035)" font-size="34.00" fill="#000"><tspan class="psi" font-size="39.0">ψ</tspan><tspan dx="0.3" dy="3.3" stroke="#000" stroke-width="0.5">=</tspan><tspan dy="-3.3">0.6</tspan></text>
<g class="cap"><text transform="translate(849.0 1292.8) scale(0.87 1)" text-anchor="end" font-size="78.2">(</text><text transform="translate(867.9 1293.5) scale(0.95 1)" text-anchor="middle" class="capb">a</text><text transform="translate(886.8 1292.8) scale(0.87 1)" text-anchor="start" font-size="78.2">)</text></g>
<rect x="215" y="1416" width="1279" height="1010" fill="none" stroke="#262626" stroke-width="2"/>
<path d="M375 2426 v-14.0 M375 1416 v14.0 M535 2426 v-14.0 M535 1416 v14.0 M695 2426 v-14.0 M695 1416 v14.0 M855 2426 v-14.0 M855 1416 v14.0 M1014 2426 v-14.0 M1014 1416 v14.0 M1174 2426 v-14.0 M1174 1416 v14.0 M1334 2426 v-14.0 M1334 1416 v14.0 M215 1584 h14.0 M1494 1584 h-14.0 M215 1753 h14.0 M1494 1753 h-14.0 M215 1921 h14.0 M1494 1921 h-14.0 M215 2089 h14.0 M1494 2089 h-14.0 M215 2258 h14.0 M1494 2258 h-14.0" stroke="#262626" stroke-width="2" fill="none"/>
<g fill="#262626">
<text transform="translate(214.5 2483.3) scale(1 1.035)" text-anchor="middle" font-size="38.8">0</text>
<text transform="translate(374.5 2483.3) scale(1 1.035)" text-anchor="middle" font-size="38.8">0.5</text>
<text transform="translate(534.5 2483.3) scale(1 1.035)" text-anchor="middle" font-size="38.8">1</text>
<text transform="translate(694.5 2483.3) scale(1 1.035)" text-anchor="middle" font-size="38.8">1.5</text>
<text transform="translate(854.5 2483.3) scale(1 1.035)" text-anchor="middle" font-size="38.8">2</text>
<text transform="translate(1013.5 2483.3) scale(1 1.035)" text-anchor="middle" font-size="38.8">2.5</text>
<text transform="translate(1173.5 2483.3) scale(1 1.035)" text-anchor="middle" font-size="38.8">3</text>
<text transform="translate(1333.5 2483.3) scale(1 1.035)" text-anchor="middle" font-size="38.8">3.5</text>
<text transform="translate(1493.5 2483.3) scale(1 1.035)" text-anchor="middle" font-size="38.8">4</text>
<text transform="translate(199.0 1431.6) scale(1 1.035)" text-anchor="end" font-size="38.8">0.22</text>
<text transform="translate(199.0 1599.6) scale(1 1.035)" text-anchor="end" font-size="38.8">0.21</text>
<text transform="translate(199.0 1768.6) scale(1 1.035)" text-anchor="end" font-size="38.8">0.2</text>
<text transform="translate(199.0 1936.6) scale(1 1.035)" text-anchor="end" font-size="38.8">0.19</text>
<text transform="translate(199.0 2104.6) scale(1 1.035)" text-anchor="end" font-size="38.8">0.18</text>
<text transform="translate(199.0 2273.6) scale(1 1.035)" text-anchor="end" font-size="38.8">0.17</text>
<text transform="translate(199.0 2441.6) scale(1 1.035)" text-anchor="end" font-size="38.8">0.16</text>
<text transform="translate(852.2 2542.6) scale(1 1.08)" text-anchor="middle" font-size="42.7">t</text>
<text transform="translate(101.7 1922.0) rotate(-90) scale(1 1.08)" text-anchor="middle" font-size="42.7">X(t)</text>
</g>
<path d="M215.0 1752.8 L215.8 1749.2 L216.6 1745.7 L217.4 1742.1 L218.1 1738.6 L218.9 1735.1 L219.7 1731.5 L220.5 1728.0 L221.3 1724.5 L222.0 1720.9 L222.8 1717.4 L223.6 1713.9 L224.3 1710.4 L225.1 1706.9 L225.9 1703.4 L226.7 1699.9 L227.4 1696.4 L228.2 1692.9 L229.0 1689.4 L229.7 1685.9 L230.5 1682.4 L231.3 1678.9 L232.0 1675.4 L232.8 1671.9 L233.6 1668.4 L234.4 1665.0 L235.1 1661.5 L235.9 1658.0 L236.7 1654.5 L237.5 1651.1 L238.3 1647.6 L239.0 1644.1 L239.8 1640.7 L240.6 1637.2 L241.4 1633.7 L242.2 1630.3 L243.0 1626.8 L243.8 1623.3 L244.6 1619.9 L245.5 1616.4 L246.3 1613.0 L247.1 1609.5 L247.9 1606.1 L248.7 1602.6 L249.6 1599.1 L250.4 1595.7 L251.3 1592.2 L252.1 1588.8 L253.0 1585.3 L253.8 1581.9 L254.7 1578.4 L255.6 1574.9 L256.4 1571.5 L257.3 1568.0 L258.2 1564.6 L259.1 1561.1 L260.0 1557.6 L260.9 1554.2 L261.9 1550.7 L262.8 1547.2 L263.7 1543.8 L264.7 1540.3 L265.6 1536.8 L266.6 1533.4 L267.5 1529.9 L268.5 1526.4 L269.5 1522.9 L270.5 1519.5 L271.6 1516.0 L272.6 1512.6 L273.7 1509.2 L274.9 1505.8 L276.1 1502.4 L277.3 1499.0 L278.6 1495.7 L279.9 1492.3 L281.3 1489.1 L282.8 1485.8 L284.3 1482.6 L285.9 1479.4 L287.5 1476.3 L289.3 1473.2 L291.1 1470.1 L293.0 1467.1 L295.0 1464.2 L297.1 1461.3 L299.3 1458.5 L301.6 1455.7 L304.0 1453.0 L306.5 1450.3 L309.2 1447.8 L311.9 1445.3 L314.7 1443.0 L317.6 1440.8 L320.6 1438.7 L323.6 1436.8 L326.8 1435.1 L330.0 1433.7 L333.2 1432.4 L336.5 1431.3 L339.8 1430.4 L343.2 1429.8 L346.6 1429.4 L349.9 1429.3 L353.3 1429.4 L356.6 1429.8 L360.0 1430.3 L363.3 1431.1 L366.7 1432.0 L370.0 1433.2 L373.3 1434.4 L376.6 1435.9 L379.8 1437.4 L383.0 1439.1 L386.3 1440.9 L389.4 1442.8 L392.6 1444.7 L395.7 1446.8 L398.8 1448.8 L401.8 1450.9 L404.8 1453.1 L407.8 1455.2 L410.7 1457.4 L413.6 1459.6 L416.5 1461.8 L419.3 1464.1 L422.2 1466.3 L425.0 1468.6 L427.7 1470.9 L430.5 1473.2 L433.2 1475.6 L436.0 1477.9 L438.7 1480.3 L441.4 1482.6 L444.0 1485.0 L446.7 1487.4 L449.4 1489.7 L452.1 1492.1 L454.7 1494.5 L457.4 1496.9 L460.0 1499.3 L462.7 1501.7 L465.4 1504.0 L468.0 1506.4 L470.7 1508.8 L473.4 1511.2 L476.0 1513.5 L478.7 1515.9 L481.4 1518.3 L484.1 1520.7 L486.7 1523.0 L489.4 1525.4 L492.1 1527.8 L494.8 1530.1 L497.4 1532.5 L500.1 1534.9 L502.8 1537.2 L505.5 1539.6 L508.2 1541.9 L510.9 1544.3 L513.5 1546.7 L516.2 1549.0 L518.9 1551.4 L521.6 1553.7 L524.3 1556.1 L527.0 1558.4 L529.7 1560.8 L532.4 1563.1 L535.1 1565.5 L537.8 1567.8 L540.5 1570.2 L543.2 1572.5 L545.9 1574.9 L548.6 1577.2 L551.3 1579.5 L554.0 1581.9 L556.7 1584.2 L559.4 1586.6 L562.1 1588.9 L564.8 1591.2 L567.5 1593.6 L570.3 1595.9 L573.0 1598.2 L575.7 1600.5 L578.4 1602.9 L581.1 1605.2 L583.8 1607.5 L586.6 1609.8 L589.3 1612.2 L592.0 1614.5 L594.7 1616.8 L597.5 1619.1 L600.2 1621.4 L602.9 1623.8 L605.6 1626.1 L608.4 1628.4 L611.1 1630.7 L613.8 1633.0 L616.6 1635.3 L619.3 1637.6 L622.0 1639.9 L624.8 1642.2 L627.5 1644.5 L630.2 1646.8 L633.0 1649.1 L635.7 1651.4 L638.5 1653.7 L641.2 1656.0 L644.0 1658.3 L646.7 1660.6 L649.5 1662.9 L652.2 1665.2 L655.0 1667.5 L657.7 1669.8 L660.5 1672.0 L663.2 1674.3 L666.0 1676.6 L668.7 1678.9 L671.5 1681.2 L674.2 1683.5 L677.0 1685.7 L679.8 1688.0 L682.5 1690.3 L685.3 1692.6 L688.1 1694.8 L690.8 1697.1 L693.6 1699.4 L696.4 1701.6 L699.1 1703.9 L701.9 1706.2 L704.7 1708.4 L707.5 1710.7 L710.2 1713.0 L713.0 1715.2 L715.8 1717.5 L718.6 1719.7 L721.3 1722.0 L724.1 1724.2 L726.9 1726.5 L729.7 1728.7 L732.5 1731.0 L735.3 1733.2 L738.0 1735.5 L740.8 1737.7 L743.6 1740.0 L746.4 1742.2 L749.2 1744.5 L752.0 1746.7 L754.8 1748.9 L757.6 1751.2 L760.4 1753.4 L763.2 1755.6 L766.0 1757.9 L768.8 1760.1 L771.6 1762.3 L774.4 1764.6 L777.2 1766.8 L780.0 1769.0 L782.8 1771.2 L785.6 1773.4 L788.4 1775.7 L791.2 1777.9 L794.1 1780.1 L796.9 1782.3 L799.7 1784.5 L802.5 1786.7 L805.3 1789.0 L808.1 1791.2 L811.0 1793.4 L813.8 1795.6 L816.6 1797.8 L819.4 1800.0 L822.2 1802.2 L825.1 1804.4 L827.9 1806.6 L830.7 1808.8 L833.5 1811.0 L836.4 1813.2 L839.2 1815.4 L842.0 1817.6 L844.9 1819.7 L847.7 1821.9 L850.5 1824.1 L853.4 1826.3 L856.2 1828.5 L859.1 1830.7 L861.9 1832.9 L864.7 1835.0 L867.6 1837.2 L870.4 1839.4 L873.3 1841.6 L876.1 1843.7 L879.0 1845.9 L881.8 1848.1 L884.7 1850.2 L887.5 1852.4 L890.4 1854.6 L893.2 1856.7 L896.1 1858.9 L898.9 1861.0 L901.8 1863.2 L904.7 1865.4 L907.5 1867.5 L910.4 1869.7 L913.2 1871.8 L916.1 1874.0 L919.0 1876.1 L921.8 1878.3 L924.7 1880.4 L927.6 1882.6 L930.5 1884.7 L933.3 1886.8 L936.2 1889.0 L939.1 1891.1 L941.9 1893.3 L944.8 1895.4 L947.7 1897.5 L950.6 1899.6 L953.5 1901.8 L956.3 1903.9 L959.2 1906.0 L962.1 1908.2 L965.0 1910.3 L967.9 1912.4 L970.8 1914.5 L973.6 1916.6 L976.5 1918.8 L979.4 1920.9 L982.3 1923.0 L985.2 1925.1 L988.1 1927.2 L991.0 1929.3 L993.9 1931.4 L996.8 1933.5 L999.7 1935.6 L1002.6 1937.7 L1005.5 1939.8 L1008.4 1941.9 L1011.3 1944.0 L1014.2 1946.1 L1017.1 1948.2 L1020.0 1950.3 L1022.9 1952.4 L1025.8 1954.5 L1028.8 1956.6 L1031.7 1958.6 L1034.6 1960.7 L1037.5 1962.8 L1040.4 1964.9 L1043.3 1967.0 L1046.2 1969.0 L1049.2 1971.1 L1052.1 1973.2 L1055.0 1975.3 L1057.9 1977.3 L1060.9 1979.4 L1063.8 1981.5 L1066.7 1983.5 L1069.6 1985.6 L1072.6 1987.6 L1075.5 1989.7 L1078.4 1991.8 L1081.4 1993.8 L1084.3 1995.9 L1087.2 1997.9 L1090.2 2000.0 L1093.1 2002.0 L1096.0 2004.1 L1099.0 2006.1 L1101.9 2008.1 L1104.9 2010.2 L1107.8 2012.2 L1110.8 2014.3 L1113.7 2016.3 L1116.7 2018.3 L1119.6 2020.4 L1122.5 2022.4 L1125.5 2024.4 L1128.5 2026.5 L1131.4 2028.5 L1134.4 2030.5 L1137.3 2032.5 L1140.3 2034.5 L1143.2 2036.6 L1146.2 2038.6 L1149.2 2040.6 L1152.1 2042.6 L1155.1 2044.6 L1158.0 2046.6 L1161.0 2048.6 L1164.0 2050.6 L1166.9 2052.6 L1169.9 2054.6 L1172.9 2056.6 L1175.9 2058.6 L1178.8 2060.6 L1181.8 2062.6 L1184.8 2064.6 L1187.7 2066.6 L1190.7 2068.6 L1193.7 2070.6 L1196.7 2072.6 L1199.7 2074.6 L1202.6 2076.6 L1205.6 2078.5 L1208.6 2080.5 L1211.6 2082.5 L1214.6 2084.5 L1217.6 2086.4 L1220.6 2088.4 L1223.6 2090.4 L1226.5 2092.3 L1229.5 2094.3 L1232.5 2096.3 L1235.5 2098.2 L1238.5 2100.2 L1241.5 2102.2 L1244.5 2104.1 L1247.5 2106.1 L1250.5 2108.0 L1253.5 2110.0 L1256.5 2111.9 L1259.5 2113.9 L1262.5 2115.8 L1265.6 2117.8 L1268.6 2119.7 L1271.6 2121.6 L1274.6 2123.6 L1277.6 2125.5 L1280.6 2127.4 L1283.6 2129.4 L1286.6 2131.3 L1289.7 2133.2 L1292.7 2135.2 L1295.7 2137.1 L1298.7 2139.0 L1301.7 2140.9 L1304.8 2142.8 L1307.8 2144.8 L1310.8 2146.7 L1313.8 2148.6 L1316.9 2150.5 L1319.9 2152.4 L1322.9 2154.3 L1325.9 2156.2 L1329.0 2158.1 L1332.0 2160.0 L1335.0 2161.9 L1338.1 2163.8 L1341.1 2165.7 L1344.2 2167.6 L1347.2 2169.5 L1350.2 2171.4 L1353.3 2173.3 L1356.3 2175.2 L1359.4 2177.1 L1362.4 2178.9 L1365.5 2180.8 L1368.5 2182.7 L1371.6 2184.6 L1374.6 2186.4 L1377.7 2188.3 L1380.7 2190.2 L1383.8 2192.1 L1386.8 2193.9 L1389.9 2195.8 L1392.9 2197.7 L1396.0 2199.5 L1399.1 2201.4 L1402.1 2203.2 L1405.2 2205.1 L1408.2 2206.9 L1411.3 2208.8 L1414.4 2210.6 L1417.4 2212.5 L1420.5 2214.3 L1423.6 2216.2 L1426.6 2218.0 L1429.7 2219.8 L1432.8 2221.7 L1435.9 2223.5 L1438.9 2225.4 L1442.0 2227.2 L1445.1 2229.0 L1448.2 2230.8 L1451.3 2232.7 L1454.3 2234.5 L1457.4 2236.3 L1460.5 2238.1 L1463.6 2239.9 L1466.7 2241.8 L1469.8 2243.6 L1472.8 2245.4 L1475.9 2247.2 L1479.0 2249.0 L1482.1 2250.8 L1485.2 2252.6 L1488.3 2254.4 L1491.4 2256.2 L1494.5 2258.0" fill="none" stroke="#000" stroke-width="16.80" stroke-linejoin="round" shape-rendering="crispEdges"/>
<path d="M215.0 1752.8 L215.1 1749.4 L215.2 1746.0 L215.3 1742.7 L215.5 1739.3 L215.7 1736.0 L215.9 1732.6 L216.2 1729.3 L216.5 1725.9 L216.8 1722.6 L217.1 1719.3 L217.5 1716.0 L217.8 1712.7 L218.2 1709.3 L218.6 1706.0 L219.0 1702.7 L219.4 1699.4 L219.9 1696.1 L220.3 1692.8 L220.8 1689.5 L221.2 1686.2 L221.7 1682.9 L222.2 1679.6 L222.6 1676.3 L223.1 1673.0 L223.6 1669.7 L224.0 1666.4 L224.5 1663.1 L224.9 1659.8 L225.4 1656.5 L225.8 1653.2 L226.2 1649.8 L226.7 1646.5 L227.1 1643.2 L227.5 1639.9 L227.9 1636.5 L228.3 1633.2 L228.7 1629.8 L229.1 1626.5 L229.4 1623.2 L229.8 1619.8 L230.2 1616.5 L230.6 1613.1 L231.1 1609.8 L231.5 1606.5 L231.9 1603.1 L232.4 1599.8 L232.8 1596.5 L233.3 1593.2 L233.8 1589.8 L234.3 1586.5 L234.8 1583.2 L235.3 1579.9 L235.9 1576.6 L236.5 1573.3 L237.1 1570.0 L237.8 1566.8 L238.4 1563.5 L239.1 1560.2 L239.8 1557.0 L240.6 1553.7 L241.4 1550.5 L242.2 1547.3 L243.1 1544.1 L244.0 1540.9 L244.9 1537.7 L245.9 1534.5 L246.9 1531.3 L248.0 1528.2 L249.1 1525.1 L250.3 1521.9 L251.5 1518.8 L252.7 1515.7 L254.0 1512.7 L255.4 1509.6 L256.8 1506.6 L258.3 1503.5 L259.8 1500.5 L261.4 1497.6 L263.1 1494.6 L264.8 1491.7 L266.6 1488.8 L268.5 1486.0 L270.6 1483.3 L272.7 1480.7 L274.9 1478.1 L277.3 1475.6 L279.7 1473.2 L282.3 1471.0 L284.9 1468.9 L287.7 1467.1 L290.5 1465.4 L293.4 1463.9 L296.4 1462.6 L299.5 1461.5 L302.6 1460.7 L305.7 1460.1 L308.8 1459.8 L312.0 1459.7 L315.2 1459.9 L318.4 1460.3 L321.5 1461.0 L324.7 1461.8 L327.9 1462.7 L331.1 1463.8 L334.2 1465.0 L337.4 1466.4 L340.5 1467.7 L343.6 1469.2 L346.7 1470.6 L349.8 1472.1 L352.9 1473.7 L355.9 1475.2 L358.9 1476.8 L361.9 1478.3 L364.9 1480.0 L367.9 1481.6 L370.8 1483.2 L373.8 1484.9 L376.7 1486.6 L379.6 1488.3 L382.5 1490.0 L385.3 1491.8 L388.2 1493.6 L391.0 1495.3 L393.9 1497.1 L396.7 1498.9 L399.5 1500.7 L402.3 1502.6 L405.1 1504.4 L407.9 1506.3 L410.7 1508.1 L413.5 1510.0 L416.2 1511.9 L419.0 1513.8 L421.8 1515.7 L424.5 1517.6 L427.3 1519.5 L430.0 1521.4 L432.7 1523.3 L435.5 1525.2 L438.2 1527.2 L440.9 1529.1 L443.7 1531.0 L446.4 1532.9 L449.1 1534.8 L451.9 1536.8 L454.6 1538.7 L457.3 1540.6 L460.1 1542.5 L462.8 1544.4 L465.6 1546.3 L468.3 1548.3 L471.0 1550.2 L473.8 1552.1 L476.5 1554.0 L479.3 1555.9 L482.0 1557.8 L484.8 1559.7 L487.5 1561.6 L490.3 1563.5 L493.0 1565.4 L495.8 1567.3 L498.5 1569.2 L501.3 1571.1 L504.1 1573.0 L506.8 1574.8 L509.6 1576.7 L512.3 1578.6 L515.1 1580.5 L517.9 1582.4 L520.6 1584.3 L523.4 1586.1 L526.2 1588.0 L528.9 1589.9 L531.7 1591.7 L534.5 1593.6 L537.2 1595.5 L540.0 1597.4 L542.8 1599.2 L545.6 1601.1 L548.3 1602.9 L551.1 1604.8 L553.9 1606.7 L556.7 1608.5 L559.5 1610.4 L562.2 1612.2 L565.0 1614.1 L567.8 1615.9 L570.6 1617.8 L573.4 1619.6 L576.2 1621.4 L579.0 1623.3 L581.8 1625.1 L584.6 1627.0 L587.4 1628.8 L590.2 1630.6 L592.9 1632.5 L595.7 1634.3 L598.5 1636.1 L601.3 1637.9 L604.2 1639.8 L607.0 1641.6 L609.8 1643.4 L612.6 1645.2 L615.4 1647.0 L618.2 1648.9 L621.0 1650.7 L623.8 1652.5 L626.6 1654.3 L629.4 1656.1 L632.3 1657.9 L635.1 1659.7 L637.9 1661.5 L640.7 1663.3 L643.5 1665.1 L646.4 1666.9 L649.2 1668.7 L652.0 1670.5 L654.8 1672.2 L657.7 1674.0 L660.5 1675.8 L663.3 1677.6 L666.1 1679.4 L669.0 1681.1 L671.8 1682.9 L674.6 1684.7 L677.5 1686.5 L680.3 1688.2 L683.2 1690.0 L686.0 1691.8 L688.8 1693.5 L691.7 1695.3 L694.5 1697.0 L697.4 1698.8 L700.2 1700.6 L703.1 1702.3 L705.9 1704.1 L708.8 1705.8 L711.6 1707.5 L714.5 1709.3 L717.3 1711.0 L720.2 1712.8 L723.1 1714.5 L725.9 1716.2 L728.8 1718.0 L731.6 1719.7 L734.5 1721.4 L737.4 1723.2 L740.2 1724.9 L743.1 1726.6 L746.0 1728.3 L748.8 1730.0 L751.7 1731.7 L754.6 1733.5 L757.5 1735.2 L760.3 1736.9 L763.2 1738.6 L766.1 1740.3 L769.0 1742.0 L771.9 1743.7 L774.7 1745.4 L777.6 1747.1 L780.5 1748.8 L783.4 1750.4 L786.3 1752.1 L789.2 1753.8 L792.1 1755.5 L795.0 1757.2 L797.9 1758.8 L800.7 1760.5 L803.6 1762.2 L806.5 1763.9 L809.4 1765.5 L812.3 1767.2 L815.2 1768.9 L818.2 1770.5 L821.1 1772.2 L824.0 1773.8 L826.9 1775.5 L829.8 1777.1 L832.7 1778.8 L835.6 1780.4 L838.5 1782.1 L841.4 1783.7 L844.3 1785.4 L847.3 1787.0 L850.2 1788.6 L853.1 1790.3 L856.0 1791.9 L859.0 1793.5 L861.9 1795.1 L864.8 1796.8 L867.7 1798.4 L870.7 1800.0 L873.6 1801.6 L876.5 1803.2 L879.5 1804.8 L882.4 1806.4 L885.3 1808.0 L888.3 1809.6 L891.2 1811.2 L894.1 1812.8 L897.1 1814.4 L900.0 1816.0 L903.0 1817.6 L905.9 1819.2 L908.9 1820.8 L911.8 1822.4 L914.8 1823.9 L917.7 1825.5 L920.7 1827.1 L923.6 1828.7 L926.6 1830.2 L929.5 1831.8 L932.5 1833.4 L935.4 1834.9 L938.4 1836.5 L941.4 1838.0 L944.3 1839.6 L947.3 1841.2 L950.3 1842.7 L953.2 1844.3 L956.2 1845.8 L959.2 1847.3 L962.1 1848.9 L965.1 1850.4 L968.1 1852.0 L971.0 1853.5 L974.0 1855.0 L977.0 1856.5 L980.0 1858.1 L983.0 1859.6 L985.9 1861.1 L988.9 1862.6 L991.9 1864.1 L994.9 1865.7 L997.9 1867.2 L1000.9 1868.7 L1003.8 1870.2 L1006.8 1871.7 L1009.8 1873.2 L1012.8 1874.7 L1015.8 1876.2 L1018.8 1877.7 L1021.8 1879.2 L1024.8 1880.6 L1027.8 1882.1 L1030.8 1883.6 L1033.8 1885.1 L1036.8 1886.6 L1039.8 1888.0 L1042.8 1889.5 L1045.8 1891.0 L1048.8 1892.5 L1051.8 1893.9 L1054.8 1895.4 L1057.8 1896.8 L1060.8 1898.3 L1063.9 1899.8 L1066.9 1901.2 L1069.9 1902.7 L1072.9 1904.1 L1075.9 1905.6 L1078.9 1907.0 L1082.0 1908.4 L1085.0 1909.9 L1088.0 1911.3 L1091.0 1912.7 L1094.1 1914.2 L1097.1 1915.6 L1100.1 1917.0 L1103.1 1918.4 L1106.2 1919.9 L1109.2 1921.3 L1112.2 1922.7 L1115.3 1924.1 L1118.3 1925.5 L1121.3 1926.9 L1124.4 1928.3 L1127.4 1929.7 L1130.4 1931.1 L1133.5 1932.5 L1136.5 1933.9 L1139.6 1935.3 L1142.6 1936.7 L1145.6 1938.1 L1148.7 1939.5 L1151.7 1940.9 L1154.8 1942.2 L1157.8 1943.6 L1160.9 1945.0 L1163.9 1946.4 L1167.0 1947.7 L1170.0 1949.1 L1173.1 1950.5 L1176.1 1951.8 L1179.2 1953.2 L1182.3 1954.5 L1185.3 1955.9 L1188.4 1957.2 L1191.4 1958.6 L1194.5 1959.9 L1197.6 1961.3 L1200.6 1962.6 L1203.7 1963.9 L1206.8 1965.3 L1209.8 1966.6 L1212.9 1967.9 L1216.0 1969.3 L1219.0 1970.6 L1222.1 1971.9 L1225.2 1973.2 L1228.2 1974.6 L1231.3 1975.9 L1234.4 1977.2 L1237.5 1978.5 L1240.5 1979.8 L1243.6 1981.1 L1246.7 1982.4 L1249.8 1983.7 L1252.9 1985.0 L1255.9 1986.3 L1259.0 1987.6 L1262.1 1988.9 L1265.2 1990.2 L1268.3 1991.5 L1271.4 1992.8 L1274.5 1994.0 L1277.5 1995.3 L1280.6 1996.6 L1283.7 1997.9 L1286.8 1999.2 L1289.9 2000.4 L1293.0 2001.7 L1296.1 2003.0 L1299.2 2004.3 L1302.3 2005.5 L1305.4 2006.8 L1308.5 2008.1 L1311.6 2009.3 L1314.6 2010.6 L1317.7 2011.9 L1320.8 2013.1 L1323.9 2014.4 L1327.0 2015.7 L1330.1 2016.9 L1333.2 2018.2 L1336.3 2019.4 L1339.4 2020.7 L1342.5 2021.9 L1345.6 2023.2 L1348.7 2024.4 L1351.8 2025.7 L1354.9 2027.0 L1358.0 2028.2 L1361.1 2029.5 L1364.2 2030.7 L1367.3 2032.0 L1370.4 2033.2 L1373.5 2034.5 L1376.6 2035.7 L1379.7 2037.0 L1382.8 2038.2 L1385.9 2039.5 L1389.0 2040.7 L1392.2 2041.9 L1395.3 2043.2 L1398.4 2044.4 L1401.5 2045.7 L1404.6 2046.9 L1407.7 2048.2 L1410.8 2049.4 L1413.9 2050.7 L1417.0 2051.9 L1420.1 2053.2 L1423.2 2054.4 L1426.3 2055.7 L1429.4 2056.9 L1432.5 2058.2 L1435.6 2059.4 L1438.7 2060.7 L1441.8 2061.9 L1444.9 2063.2 L1448.0 2064.4 L1451.1 2065.7 L1454.2 2066.9 L1457.3 2068.2 L1460.4 2069.4 L1463.5 2070.7 L1466.6 2071.9 L1469.7 2073.2 L1472.8 2074.5 L1475.9 2075.7 L1479.0 2077.0 L1482.1 2078.2 L1485.2 2079.5 L1488.3 2080.8 L1491.4 2082.0 L1494.5 2083.3" fill="none" stroke="#f00" stroke-width="16.80" stroke-linejoin="round" shape-rendering="crispEdges"/>
<path d="M214.5 1752.8 L214.5 1749.6 L214.5 1746.4 L214.6 1743.3 L214.6 1740.1 L214.6 1736.9 L214.7 1733.7 L214.8 1730.5 L214.8 1727.3 L214.9 1724.1 L215.0 1720.9 L215.1 1717.7 L215.2 1714.5 L215.3 1711.2 L215.4 1708.0 L215.5 1704.8 L215.7 1701.6 L215.8 1698.4 L215.9 1695.2 L216.1 1691.9 L216.2 1688.7 L216.4 1685.5 L216.5 1682.3 L216.7 1679.1 L216.8 1675.9 L217.0 1672.7 L217.1 1669.5 L217.3 1666.2 L217.5 1663.0 L217.6 1659.8 L217.8 1656.6 L218.0 1653.4 L218.1 1650.2 L218.3 1647.0 L218.5 1643.9 L218.6 1640.7 L218.8 1637.5 L219.0 1634.3 L219.1 1631.1 L219.3 1628.0 L219.5 1624.8 L219.7 1621.6 L219.9 1618.5 L220.1 1615.3 L220.3 1612.1 L220.5 1609.0 L220.7 1605.8 L220.9 1602.6 L221.2 1599.5 L221.4 1596.3 L221.7 1593.1 L222.0 1590.0 L222.3 1586.8 L222.6 1583.6 L222.9 1580.4 L223.3 1577.3 L223.7 1574.1 L224.0 1570.9 L224.5 1567.7 L224.9 1564.5 L225.4 1561.3 L225.8 1558.1 L226.3 1554.9 L226.9 1551.7 L227.4 1548.4 L228.0 1545.2 L228.6 1542.0 L229.3 1538.7 L230.0 1535.5 L230.7 1532.2 L231.4 1528.9 L232.2 1525.7 L233.1 1522.4 L234.0 1519.3 L235.0 1516.1 L236.1 1513.1 L237.3 1510.1 L238.6 1507.2 L240.1 1504.4 L241.6 1501.8 L243.4 1499.3 L245.3 1496.9 L247.3 1494.7 L249.6 1492.7 L252.0 1490.9 L254.7 1489.3 L257.5 1487.9 L260.4 1486.8 L263.3 1485.8 L266.4 1484.9 L269.4 1484.3 L272.5 1483.9 L275.5 1483.7 L278.6 1483.6 L281.6 1483.7 L284.6 1484.0 L287.6 1484.4 L290.6 1484.9 L293.6 1485.6 L296.5 1486.5 L299.5 1487.4 L302.4 1488.4 L305.4 1489.6 L308.3 1490.8 L311.2 1492.2 L314.1 1493.6 L317.0 1495.1 L319.9 1496.6 L322.8 1498.2 L325.7 1499.8 L328.6 1501.5 L331.5 1503.2 L334.3 1505.0 L337.2 1506.7 L340.1 1508.5 L342.9 1510.2 L345.8 1512.0 L348.6 1513.7 L351.4 1515.4 L354.3 1517.1 L357.1 1518.8 L360.0 1520.5 L362.8 1522.1 L365.6 1523.8 L368.4 1525.4 L371.3 1527.1 L374.1 1528.7 L376.9 1530.3 L379.7 1531.9 L382.5 1533.5 L385.4 1535.1 L388.2 1536.7 L391.0 1538.2 L393.8 1539.8 L396.6 1541.3 L399.4 1542.9 L402.2 1544.4 L405.0 1545.9 L407.8 1547.5 L410.6 1549.0 L413.4 1550.5 L416.3 1552.0 L419.1 1553.5 L421.9 1555.0 L424.7 1556.5 L427.5 1558.0 L430.3 1559.4 L433.1 1560.9 L435.9 1562.4 L438.7 1563.8 L441.5 1565.3 L444.3 1566.8 L447.1 1568.2 L450.0 1569.7 L452.8 1571.1 L455.6 1572.6 L458.4 1574.0 L461.2 1575.5 L464.1 1576.9 L466.9 1578.3 L469.7 1579.8 L472.6 1581.2 L475.4 1582.7 L478.2 1584.1 L481.1 1585.5 L483.9 1587.0 L486.7 1588.4 L489.6 1589.8 L492.4 1591.2 L495.3 1592.7 L498.1 1594.1 L501.0 1595.5 L503.8 1596.9 L506.7 1598.3 L509.5 1599.8 L512.4 1601.2 L515.2 1602.6 L518.1 1604.0 L521.0 1605.4 L523.8 1606.8 L526.7 1608.2 L529.6 1609.6 L532.4 1611.0 L535.3 1612.4 L538.2 1613.8 L541.1 1615.2 L543.9 1616.6 L546.8 1618.0 L549.7 1619.4 L552.6 1620.7 L555.5 1622.1 L558.4 1623.5 L561.2 1624.9 L564.1 1626.3 L567.0 1627.6 L569.9 1629.0 L572.8 1630.4 L575.7 1631.7 L578.6 1633.1 L581.5 1634.5 L584.4 1635.8 L587.3 1637.2 L590.2 1638.5 L593.1 1639.9 L596.0 1641.2 L598.9 1642.6 L601.9 1643.9 L604.8 1645.3 L607.7 1646.6 L610.6 1647.9 L613.5 1649.3 L616.4 1650.6 L619.4 1651.9 L622.3 1653.3 L625.2 1654.6 L628.1 1655.9 L631.1 1657.2 L634.0 1658.5 L636.9 1659.9 L639.8 1661.2 L642.8 1662.5 L645.7 1663.8 L648.7 1665.1 L651.6 1666.4 L654.5 1667.7 L657.5 1669.0 L660.4 1670.3 L663.4 1671.5 L666.3 1672.8 L669.2 1674.1 L672.2 1675.4 L675.1 1676.7 L678.1 1677.9 L681.0 1679.2 L684.0 1680.5 L687.0 1681.7 L689.9 1683.0 L692.9 1684.3 L695.8 1685.5 L698.8 1686.8 L701.7 1688.0 L704.7 1689.2 L707.7 1690.5 L710.6 1691.7 L713.6 1693.0 L716.6 1694.2 L719.5 1695.4 L722.5 1696.6 L725.5 1697.9 L728.5 1699.1 L731.4 1700.3 L734.4 1701.5 L737.4 1702.7 L740.4 1703.9 L743.3 1705.1 L746.3 1706.3 L749.3 1707.5 L752.3 1708.7 L755.3 1709.9 L758.2 1711.1 L761.2 1712.3 L764.2 1713.4 L767.2 1714.6 L770.2 1715.8 L773.2 1717.0 L776.2 1718.1 L779.2 1719.3 L782.2 1720.4 L785.2 1721.6 L788.2 1722.7 L791.1 1723.9 L794.1 1725.0 L797.1 1726.2 L800.1 1727.3 L803.1 1728.4 L806.1 1729.6 L809.1 1730.7 L812.2 1731.8 L815.2 1732.9 L818.2 1734.0 L821.2 1735.1 L824.2 1736.2 L827.2 1737.4 L830.2 1738.5 L833.2 1739.6 L836.2 1740.6 L839.2 1741.7 L842.2 1742.8 L845.3 1743.9 L848.3 1745.0 L851.3 1746.1 L854.3 1747.1 L857.3 1748.2 L860.4 1749.3 L863.4 1750.4 L866.4 1751.4 L869.4 1752.5 L872.4 1753.5 L875.5 1754.6 L878.5 1755.6 L881.5 1756.7 L884.5 1757.7 L887.6 1758.8 L890.6 1759.8 L893.6 1760.9 L896.7 1761.9 L899.7 1762.9 L902.7 1764.0 L905.8 1765.0 L908.8 1766.0 L911.8 1767.0 L914.9 1768.0 L917.9 1769.1 L920.9 1770.1 L924.0 1771.1 L927.0 1772.1 L930.0 1773.1 L933.1 1774.1 L936.1 1775.1 L939.2 1776.1 L942.2 1777.1 L945.3 1778.1 L948.3 1779.1 L951.3 1780.1 L954.4 1781.0 L957.4 1782.0 L960.5 1783.0 L963.5 1784.0 L966.6 1785.0 L969.6 1785.9 L972.7 1786.9 L975.7 1787.9 L978.8 1788.9 L981.8 1789.8 L984.9 1790.8 L987.9 1791.7 L991.0 1792.7 L994.0 1793.7 L997.1 1794.6 L1000.1 1795.6 L1003.2 1796.5 L1006.3 1797.5 L1009.3 1798.4 L1012.4 1799.4 L1015.4 1800.3 L1018.5 1801.2 L1021.6 1802.2 L1024.6 1803.1 L1027.7 1804.1 L1030.7 1805.0 L1033.8 1805.9 L1036.9 1806.8 L1039.9 1807.8 L1043.0 1808.7 L1046.1 1809.6 L1049.1 1810.5 L1052.2 1811.5 L1055.2 1812.4 L1058.3 1813.3 L1061.4 1814.2 L1064.5 1815.1 L1067.5 1816.1 L1070.6 1817.0 L1073.7 1817.9 L1076.7 1818.8 L1079.8 1819.7 L1082.9 1820.6 L1085.9 1821.5 L1089.0 1822.4 L1092.1 1823.3 L1095.2 1824.2 L1098.2 1825.1 L1101.3 1826.0 L1104.4 1826.9 L1107.4 1827.8 L1110.5 1828.7 L1113.6 1829.6 L1116.7 1830.5 L1119.7 1831.4 L1122.8 1832.2 L1125.9 1833.1 L1129.0 1834.0 L1132.1 1834.9 L1135.1 1835.8 L1138.2 1836.7 L1141.3 1837.6 L1144.4 1838.4 L1147.4 1839.3 L1150.5 1840.2 L1153.6 1841.1 L1156.7 1842.0 L1159.8 1842.8 L1162.8 1843.7 L1165.9 1844.6 L1169.0 1845.5 L1172.1 1846.3 L1175.2 1847.2 L1178.3 1848.1 L1181.3 1848.9 L1184.4 1849.8 L1187.5 1850.7 L1190.6 1851.5 L1193.7 1852.4 L1196.8 1853.3 L1199.8 1854.1 L1202.9 1855.0 L1206.0 1855.9 L1209.1 1856.7 L1212.2 1857.6 L1215.3 1858.5 L1218.3 1859.3 L1221.4 1860.2 L1224.5 1861.1 L1227.6 1861.9 L1230.7 1862.8 L1233.8 1863.6 L1236.9 1864.5 L1240.0 1865.4 L1243.0 1866.2 L1246.1 1867.1 L1249.2 1867.9 L1252.3 1868.8 L1255.4 1869.6 L1258.5 1870.5 L1261.6 1871.3 L1264.7 1872.2 L1267.7 1873.1 L1270.8 1873.9 L1273.9 1874.8 L1277.0 1875.6 L1280.1 1876.4 L1283.2 1877.3 L1286.3 1878.1 L1289.4 1879.0 L1292.5 1879.8 L1295.6 1880.7 L1298.7 1881.5 L1301.7 1882.3 L1304.8 1883.2 L1307.9 1884.0 L1311.0 1884.9 L1314.1 1885.7 L1317.2 1886.5 L1320.3 1887.3 L1323.4 1888.2 L1326.5 1889.0 L1329.6 1889.8 L1332.7 1890.6 L1335.8 1891.5 L1338.9 1892.3 L1342.0 1893.1 L1345.1 1893.9 L1348.2 1894.7 L1351.3 1895.5 L1354.4 1896.4 L1357.5 1897.2 L1360.6 1898.0 L1363.7 1898.8 L1366.8 1899.6 L1369.9 1900.4 L1373.0 1901.2 L1376.1 1902.0 L1379.2 1902.8 L1382.3 1903.5 L1385.4 1904.3 L1388.5 1905.1 L1391.6 1905.9 L1394.7 1906.7 L1397.8 1907.5 L1401.0 1908.2 L1404.1 1909.0 L1407.2 1909.8 L1410.3 1910.6 L1413.4 1911.3 L1416.5 1912.1 L1419.6 1912.8 L1422.7 1913.6 L1425.8 1914.4 L1429.0 1915.1 L1432.1 1915.9 L1435.2 1916.6 L1438.3 1917.4 L1441.4 1918.1 L1444.5 1918.8 L1447.6 1919.6 L1450.8 1920.3 L1453.9 1921.0 L1457.0 1921.8 L1460.1 1922.5 L1463.2 1923.2 L1466.4 1923.9 L1469.5 1924.6 L1472.6 1925.3 L1475.7 1926.0 L1478.9 1926.7 L1482.0 1927.4 L1485.1 1928.1 L1488.2 1928.8 L1491.4 1929.5 L1494.5 1930.2" fill="none" stroke="#00f" stroke-width="16.80" stroke-linejoin="round" shape-rendering="crispEdges"/>
<rect x="1219" y="1448" width="243" height="149" fill="#fff" stroke="#262626" stroke-width="2"/>
<path d="M1230 1476 H1348" stroke="#000" stroke-width="16"/>
<text transform="translate(1355.5 1490.8) scale(1 1.035)" font-size="34.00" fill="#000"><tspan class="psi" font-size="39.0">ψ</tspan><tspan dx="0.3" dy="3.3" stroke="#000" stroke-width="0.5">=</tspan><tspan dy="-3.3">1</tspan></text>
<path d="M1230 1522.5 H1348" stroke="#f00" stroke-width="17"/>
<text transform="translate(1355.5 1537.3) scale(1 1.035)" font-size="34.00" fill="#000"><tspan class="psi" font-size="39.0">ψ</tspan><tspan dx="0.3" dy="3.3" stroke="#000" stroke-width="0.5">=</tspan><tspan dy="-3.3">0.8</tspan></text>
<path d="M1230 1568.5 H1348" stroke="#00f" stroke-width="17"/>
<text transform="translate(1355.5 1583.3) scale(1 1.035)" font-size="34.00" fill="#000"><tspan class="psi" font-size="39.0">ψ</tspan><tspan dx="0.3" dy="3.3" stroke="#000" stroke-width="0.5">=</tspan><tspan dy="-3.3">0.6</tspan></text>
<g class="cap"><text transform="translate(844.9 2685.3) scale(0.87 1)" text-anchor="end" font-size="78.2">(</text><text transform="translate(868.0 2686) scale(1.044 1)" text-anchor="middle" class="capb">b</text><text transform="translate(892.0 2685.3) scale(0.87 1)" text-anchor="start" font-size="78.2">)</text></g>
<rect x="213" y="2820" width="1288" height="1016" fill="none" stroke="#262626" stroke-width="2"/>
<path d="M374 3836 v-14.1 M374 2820 v14.1 M535 3836 v-14.1 M535 2820 v14.1 M696 3836 v-14.1 M696 2820 v14.1 M857 3836 v-14.1 M857 2820 v14.1 M1018 3836 v-14.1 M1018 2820 v14.1 M1179 3836 v-14.1 M1179 2820 v14.1 M1340 3836 v-14.1 M1340 2820 v14.1 M213 2989 h14.1 M1501 2989 h-14.1 M213 3159 h14.1 M1501 3159 h-14.1 M213 3328 h14.1 M1501 3328 h-14.1 M213 3497 h14.1 M1501 3497 h-14.1 M213 3667 h14.1 M1501 3667 h-14.1" stroke="#262626" stroke-width="2" fill="none"/>
<g fill="#262626">
<text transform="translate(212.5 3892.5) scale(1 1.035)" text-anchor="middle" font-size="39.1104">0</text>
<text transform="translate(373.5 3892.5) scale(1 1.035)" text-anchor="middle" font-size="39.1104">0.5</text>
<text transform="translate(534.5 3892.5) scale(1 1.035)" text-anchor="middle" font-size="39.1104">1</text>
<text transform="translate(695.5 3892.5) scale(1 1.035)" text-anchor="middle" font-size="39.1104">1.5</text>
<text transform="translate(856.5 3892.5) scale(1 1.035)" text-anchor="middle" font-size="39.1104">2</text>
<text transform="translate(1017.5 3892.5) scale(1 1.035)" text-anchor="middle" font-size="39.1104">2.5</text>
<text transform="translate(1178.5 3892.5) scale(1 1.035)" text-anchor="middle" font-size="39.1104">3</text>
<text transform="translate(1339.5 3892.5) scale(1 1.035)" text-anchor="middle" font-size="39.1104">3.5</text>
<text transform="translate(1500.5 3892.5) scale(1 1.035)" text-anchor="middle" font-size="39.1104">4</text>
<text transform="translate(195.9 2835.7) scale(1 1.035)" text-anchor="end" font-size="39.1104">0.1</text>
<text transform="translate(195.9 3004.7) scale(1 1.035)" text-anchor="end" font-size="39.1104">0.09</text>
<text transform="translate(195.9 3174.7) scale(1 1.035)" text-anchor="end" font-size="39.1104">0.08</text>
<text transform="translate(195.9 3343.7) scale(1 1.035)" text-anchor="end" font-size="39.1104">0.07</text>
<text transform="translate(195.9 3512.7) scale(1 1.035)" text-anchor="end" font-size="39.1104">0.06</text>
<text transform="translate(195.9 3682.7) scale(1 1.035)" text-anchor="end" font-size="39.1104">0.05</text>
<text transform="translate(195.9 3851.7) scale(1 1.035)" text-anchor="end" font-size="39.1104">0.04</text>
<text transform="translate(857.0 3953.5) scale(1 1.08)" text-anchor="middle" font-size="43.0416">t</text>
<text transform="translate(98.8 3329.0) rotate(-90) scale(1 1.08)" text-anchor="middle" font-size="43.0416">C(t)</text>
</g>
<path d="M213.0 2820.0 L214.1 2823.4 L215.2 2826.7 L216.4 2830.1 L217.5 2833.4 L218.6 2836.8 L219.7 2840.2 L220.8 2843.5 L221.9 2846.9 L223.0 2850.3 L224.1 2853.7 L225.1 2857.0 L226.2 2860.4 L227.3 2863.8 L228.4 2867.2 L229.5 2870.6 L230.6 2873.9 L231.6 2877.3 L232.7 2880.7 L233.8 2884.1 L234.9 2887.5 L235.9 2890.9 L237.0 2894.3 L238.1 2897.6 L239.2 2901.0 L240.2 2904.4 L241.3 2907.8 L242.4 2911.2 L243.4 2914.6 L244.5 2918.0 L245.6 2921.4 L246.7 2924.8 L247.7 2928.2 L248.8 2931.6 L249.9 2935.0 L251.0 2938.4 L252.0 2941.7 L253.1 2945.1 L254.2 2948.5 L255.3 2951.9 L256.3 2955.3 L257.4 2958.7 L258.5 2962.1 L259.6 2965.5 L260.7 2968.9 L261.8 2972.3 L262.9 2975.7 L264.0 2979.0 L265.1 2982.4 L266.2 2985.8 L267.3 2989.2 L268.4 2992.6 L269.5 2996.0 L270.6 2999.4 L271.7 3002.7 L272.8 3006.1 L273.9 3009.5 L275.1 3012.9 L276.2 3016.2 L277.3 3019.6 L278.5 3023.0 L279.6 3026.3 L280.8 3029.7 L281.9 3033.1 L283.1 3036.4 L284.2 3039.8 L285.4 3043.2 L286.5 3046.5 L287.7 3049.9 L288.9 3053.2 L290.1 3056.6 L291.3 3059.9 L292.5 3063.3 L293.7 3066.6 L294.9 3070.0 L296.1 3073.3 L297.3 3076.6 L298.5 3080.0 L299.8 3083.3 L301.0 3086.6 L302.3 3089.9 L303.5 3093.3 L304.8 3096.6 L306.0 3099.9 L307.3 3103.2 L308.6 3106.5 L309.9 3109.8 L311.2 3113.1 L312.5 3116.4 L313.8 3119.7 L315.1 3123.0 L316.5 3126.3 L317.8 3129.6 L319.1 3132.8 L320.5 3136.1 L321.8 3139.4 L323.2 3142.7 L324.6 3145.9 L326.0 3149.2 L327.4 3152.4 L328.8 3155.7 L330.2 3158.9 L331.6 3162.2 L333.1 3165.4 L334.5 3168.6 L336.0 3171.9 L337.4 3175.1 L338.9 3178.3 L340.4 3181.5 L341.9 3184.7 L343.4 3187.9 L344.9 3191.1 L346.4 3194.3 L348.0 3197.5 L349.5 3200.7 L351.1 3203.9 L352.7 3207.0 L354.3 3210.2 L355.8 3213.4 L357.5 3216.5 L359.1 3219.7 L360.7 3222.8 L362.4 3226.0 L364.0 3229.1 L365.7 3232.2 L367.3 3235.4 L369.0 3238.5 L370.7 3241.6 L372.4 3244.7 L374.2 3247.8 L375.9 3250.9 L377.6 3254.0 L379.4 3257.1 L381.2 3260.1 L382.9 3263.2 L384.7 3266.3 L386.5 3269.3 L388.3 3272.4 L390.2 3275.4 L392.0 3278.5 L393.8 3281.5 L395.7 3284.5 L397.5 3287.6 L399.4 3290.6 L401.3 3293.6 L403.2 3296.6 L405.1 3299.6 L407.0 3302.6 L408.9 3305.6 L410.8 3308.6 L412.8 3311.6 L414.7 3314.6 L416.7 3317.5 L418.6 3320.5 L420.6 3323.5 L422.6 3326.4 L424.6 3329.4 L426.6 3332.3 L428.6 3335.2 L430.6 3338.2 L432.7 3341.1 L434.7 3344.0 L436.8 3346.9 L438.8 3349.8 L440.9 3352.7 L443.0 3355.6 L445.1 3358.5 L447.2 3361.4 L449.3 3364.2 L451.4 3367.1 L453.5 3370.0 L455.6 3372.8 L457.8 3375.7 L459.9 3378.5 L462.1 3381.3 L464.3 3384.2 L466.5 3387.0 L468.7 3389.8 L470.9 3392.6 L473.1 3395.4 L475.3 3398.2 L477.5 3401.0 L479.7 3403.7 L482.0 3406.5 L484.2 3409.3 L486.5 3412.0 L488.8 3414.8 L491.1 3417.5 L493.4 3420.2 L495.7 3422.9 L498.0 3425.7 L500.3 3428.4 L502.6 3431.1 L504.9 3433.7 L507.3 3436.4 L509.6 3439.1 L512.0 3441.8 L514.4 3444.4 L516.8 3447.1 L519.2 3449.7 L521.6 3452.3 L524.0 3455.0 L526.4 3457.6 L528.8 3460.2 L531.2 3462.8 L533.7 3465.4 L536.1 3468.0 L538.6 3470.5 L541.1 3473.1 L543.6 3475.6 L546.1 3478.2 L548.6 3480.7 L551.1 3483.2 L553.6 3485.7 L556.1 3488.2 L558.7 3490.7 L561.2 3493.2 L563.8 3495.7 L566.3 3498.1 L568.9 3500.6 L571.5 3503.0 L574.1 3505.4 L576.7 3507.8 L579.3 3510.3 L581.9 3512.6 L584.6 3515.0 L587.2 3517.4 L589.9 3519.8 L592.5 3522.1 L595.2 3524.4 L597.9 3526.8 L600.6 3529.1 L603.3 3531.4 L606.0 3533.7 L608.7 3536.0 L611.4 3538.2 L614.1 3540.5 L616.9 3542.7 L619.6 3544.9 L622.4 3547.2 L625.2 3549.4 L628.0 3551.5 L630.8 3553.7 L633.6 3555.9 L636.4 3558.0 L639.2 3560.2 L642.0 3562.3 L644.9 3564.4 L647.7 3566.5 L650.6 3568.6 L653.5 3570.7 L656.4 3572.7 L659.2 3574.8 L662.1 3576.8 L665.1 3578.8 L668.0 3580.8 L670.9 3582.8 L673.8 3584.8 L676.8 3586.7 L679.8 3588.7 L682.7 3590.6 L685.7 3592.5 L688.7 3594.4 L691.7 3596.3 L694.7 3598.2 L697.7 3600.1 L700.7 3601.9 L703.8 3603.7 L706.8 3605.6 L709.8 3607.4 L712.9 3609.2 L716.0 3610.9 L719.0 3612.7 L722.1 3614.5 L725.2 3616.2 L728.3 3617.9 L731.4 3619.6 L734.5 3621.3 L737.6 3623.0 L740.8 3624.7 L743.9 3626.4 L747.0 3628.0 L750.2 3629.7 L753.4 3631.3 L756.5 3632.9 L759.7 3634.5 L762.9 3636.1 L766.1 3637.6 L769.2 3639.2 L772.4 3640.7 L775.6 3642.3 L778.9 3643.8 L782.1 3645.3 L785.3 3646.8 L788.5 3648.3 L791.8 3649.8 L795.0 3651.2 L798.3 3652.7 L801.5 3654.1 L804.8 3655.5 L808.0 3656.9 L811.3 3658.3 L814.6 3659.7 L817.9 3661.1 L821.2 3662.5 L824.5 3663.8 L827.7 3665.2 L831.1 3666.5 L834.4 3667.8 L837.7 3669.1 L841.0 3670.4 L844.3 3671.7 L847.6 3673.0 L851.0 3674.2 L854.3 3675.5 L857.6 3676.7 L861.0 3677.9 L864.3 3679.1 L867.7 3680.3 L871.0 3681.5 L874.4 3682.7 L877.8 3683.9 L881.1 3685.0 L884.5 3686.2 L887.9 3687.3 L891.3 3688.5 L894.6 3689.6 L898.0 3690.7 L901.4 3691.8 L904.8 3692.8 L908.2 3693.9 L911.6 3695.0 L915.0 3696.0 L918.4 3697.1 L921.8 3698.1 L925.2 3699.1 L928.6 3700.1 L932.0 3701.1 L935.4 3702.1 L938.8 3703.1 L942.3 3704.0 L945.7 3705.0 L949.1 3706.0 L952.5 3706.9 L956.0 3707.8 L959.4 3708.7 L962.8 3709.6 L966.3 3710.5 L969.7 3711.4 L973.1 3712.3 L976.6 3713.2 L980.0 3714.0 L983.5 3714.9 L986.9 3715.7 L990.4 3716.6 L993.8 3717.4 L997.3 3718.2 L1000.7 3719.0 L1004.2 3719.8 L1007.6 3720.6 L1011.1 3721.4 L1014.6 3722.1 L1018.0 3722.9 L1021.5 3723.7 L1025.0 3724.4 L1028.4 3725.1 L1031.9 3725.9 L1035.4 3726.6 L1038.9 3727.3 L1042.3 3728.0 L1045.8 3728.7 L1049.3 3729.4 L1052.8 3730.1 L1056.3 3730.7 L1059.8 3731.4 L1063.3 3732.1 L1066.7 3732.7 L1070.2 3733.4 L1073.7 3734.0 L1077.2 3734.6 L1080.7 3735.2 L1084.2 3735.8 L1087.7 3736.4 L1091.2 3737.0 L1094.7 3737.6 L1098.2 3738.2 L1101.7 3738.8 L1105.2 3739.4 L1108.7 3739.9 L1112.2 3740.5 L1115.8 3741.0 L1119.3 3741.6 L1122.8 3742.1 L1126.3 3742.6 L1129.8 3743.1 L1133.3 3743.7 L1136.8 3744.2 L1140.4 3744.7 L1143.9 3745.2 L1147.4 3745.7 L1150.9 3746.1 L1154.5 3746.6 L1158.0 3747.1 L1161.5 3747.6 L1165.0 3748.0 L1168.6 3748.5 L1172.1 3748.9 L1175.6 3749.4 L1179.1 3749.8 L1182.7 3750.2 L1186.2 3750.7 L1189.7 3751.1 L1193.3 3751.5 L1196.8 3751.9 L1200.3 3752.3 L1203.9 3752.7 L1207.4 3753.1 L1211.0 3753.5 L1214.5 3753.9 L1218.0 3754.3 L1221.6 3754.7 L1225.1 3755.0 L1228.7 3755.4 L1232.2 3755.8 L1235.7 3756.1 L1239.3 3756.5 L1242.8 3756.8 L1246.4 3757.2 L1249.9 3757.5 L1253.5 3757.8 L1257.0 3758.2 L1260.6 3758.5 L1264.1 3758.8 L1267.6 3759.2 L1271.2 3759.5 L1274.7 3759.8 L1278.3 3760.1 L1281.8 3760.4 L1285.4 3760.7 L1288.9 3761.0 L1292.5 3761.3 L1296.0 3761.6 L1299.6 3761.9 L1303.1 3762.2 L1306.7 3762.5 L1310.2 3762.7 L1313.8 3763.0 L1317.3 3763.3 L1320.9 3763.6 L1324.4 3763.8 L1328.0 3764.1 L1331.5 3764.4 L1335.1 3764.6 L1338.6 3764.9 L1342.2 3765.1 L1345.7 3765.4 L1349.3 3765.6 L1352.8 3765.9 L1356.4 3766.1 L1359.9 3766.4 L1363.5 3766.6 L1367.0 3766.9 L1370.6 3767.1 L1374.1 3767.3 L1377.7 3767.6 L1381.2 3767.8 L1384.8 3768.0 L1388.3 3768.3 L1391.9 3768.5 L1395.4 3768.7 L1398.9 3768.9 L1402.5 3769.2 L1406.0 3769.4 L1409.6 3769.6 L1413.1 3769.8 L1416.7 3770.1 L1420.2 3770.3 L1423.8 3770.5 L1427.3 3770.7 L1430.8 3770.9 L1434.4 3771.1 L1437.9 3771.4 L1441.5 3771.6 L1445.0 3771.8 L1448.5 3772.0 L1452.1 3772.2 L1455.6 3772.4 L1459.1 3772.6 L1462.7 3772.9 L1466.2 3773.1 L1469.7 3773.3 L1473.3 3773.5 L1476.8 3773.7 L1480.3 3773.9 L1483.9 3774.1 L1487.4 3774.3 L1490.9 3774.6 L1494.4 3774.8 L1498.0 3775.0 L1501.5 3775.2" fill="none" stroke="#000" stroke-width="16.93" stroke-linejoin="round" shape-rendering="crispEdges"/>
<path d="M213.0 2820.0 L213.6 2823.4 L214.1 2826.8 L214.7 2830.2 L215.3 2833.6 L215.8 2837.0 L216.4 2840.4 L217.0 2843.9 L217.6 2847.3 L218.1 2850.7 L218.7 2854.1 L219.3 2857.5 L219.9 2860.9 L220.5 2864.4 L221.1 2867.8 L221.7 2871.2 L222.2 2874.6 L222.8 2878.0 L223.5 2881.5 L224.1 2884.9 L224.7 2888.3 L225.3 2891.7 L225.9 2895.1 L226.5 2898.6 L227.2 2902.0 L227.8 2905.4 L228.4 2908.8 L229.1 2912.3 L229.7 2915.7 L230.4 2919.1 L231.0 2922.5 L231.7 2925.9 L232.4 2929.3 L233.0 2932.8 L233.7 2936.2 L234.4 2939.6 L235.1 2943.0 L235.8 2946.4 L236.5 2949.8 L237.2 2953.2 L238.0 2956.7 L238.7 2960.1 L239.4 2963.5 L240.2 2966.9 L240.9 2970.3 L241.7 2973.7 L242.5 2977.1 L243.3 2980.5 L244.1 2983.9 L244.8 2987.3 L245.7 2990.6 L246.5 2994.0 L247.3 2997.4 L248.1 3000.8 L249.0 3004.2 L249.8 3007.6 L250.7 3010.9 L251.6 3014.3 L252.5 3017.7 L253.4 3021.0 L254.3 3024.4 L255.2 3027.8 L256.1 3031.1 L257.1 3034.5 L258.0 3037.8 L259.0 3041.2 L259.9 3044.5 L260.9 3047.8 L261.9 3051.2 L262.9 3054.5 L264.0 3057.8 L265.0 3061.2 L266.0 3064.5 L267.1 3067.8 L268.2 3071.1 L269.3 3074.4 L270.4 3077.7 L271.5 3081.0 L272.6 3084.3 L273.7 3087.6 L274.9 3090.9 L276.0 3094.1 L277.2 3097.4 L278.4 3100.7 L279.6 3103.9 L280.8 3107.2 L282.0 3110.5 L283.2 3113.7 L284.5 3116.9 L285.7 3120.2 L287.0 3123.4 L288.3 3126.6 L289.6 3129.9 L290.9 3133.1 L292.2 3136.3 L293.6 3139.5 L294.9 3142.7 L296.3 3145.9 L297.7 3149.1 L299.1 3152.2 L300.5 3155.4 L301.9 3158.6 L303.3 3161.7 L304.8 3164.9 L306.2 3168.0 L307.7 3171.2 L309.2 3174.3 L310.7 3177.4 L312.2 3180.5 L313.8 3183.7 L315.3 3186.8 L316.9 3189.9 L318.4 3192.9 L320.0 3196.0 L321.6 3199.1 L323.3 3202.2 L324.9 3205.2 L326.5 3208.3 L328.2 3211.3 L329.9 3214.4 L331.6 3217.4 L333.3 3220.4 L335.0 3223.4 L336.7 3226.4 L338.5 3229.4 L340.2 3232.4 L342.0 3235.4 L343.8 3238.4 L345.6 3241.3 L347.4 3244.3 L349.3 3247.2 L351.1 3250.2 L353.0 3253.1 L354.9 3256.0 L356.8 3258.9 L358.7 3261.8 L360.6 3264.7 L362.6 3267.6 L364.5 3270.5 L366.5 3273.3 L368.5 3276.2 L370.5 3279.0 L372.5 3281.9 L374.5 3284.7 L376.6 3287.5 L378.6 3290.3 L380.7 3293.1 L382.8 3295.9 L384.9 3298.7 L387.0 3301.4 L389.1 3304.2 L391.3 3306.9 L393.4 3309.7 L395.6 3312.4 L397.8 3315.1 L400.0 3317.8 L402.2 3320.5 L404.4 3323.2 L406.6 3325.8 L408.9 3328.5 L411.1 3331.2 L413.4 3333.8 L415.7 3336.4 L418.0 3339.0 L420.3 3341.6 L422.6 3344.2 L425.0 3346.8 L427.3 3349.4 L429.7 3351.9 L432.0 3354.5 L434.4 3357.0 L436.8 3359.6 L439.2 3362.1 L441.7 3364.6 L444.1 3367.1 L446.5 3369.5 L449.0 3372.0 L451.4 3374.4 L453.9 3376.9 L456.4 3379.3 L458.9 3381.7 L461.4 3384.1 L464.0 3386.5 L466.5 3388.9 L469.0 3391.3 L471.6 3393.6 L474.2 3396.0 L476.7 3398.3 L479.3 3400.6 L481.9 3402.9 L484.5 3405.2 L487.2 3407.5 L489.8 3409.7 L492.4 3412.0 L495.1 3414.2 L497.8 3416.4 L500.4 3418.6 L503.1 3420.8 L505.8 3423.0 L508.5 3425.2 L511.2 3427.3 L513.9 3429.4 L516.7 3431.6 L519.4 3433.7 L522.2 3435.8 L524.9 3437.9 L527.7 3439.9 L530.5 3442.0 L533.3 3444.0 L536.1 3446.1 L538.9 3448.1 L541.7 3450.1 L544.5 3452.1 L547.4 3454.1 L550.2 3456.0 L553.1 3458.0 L555.9 3459.9 L558.8 3461.9 L561.7 3463.8 L564.6 3465.7 L567.5 3467.6 L570.4 3469.5 L573.3 3471.3 L576.2 3473.2 L579.1 3475.0 L582.1 3476.9 L585.0 3478.7 L588.0 3480.5 L590.9 3482.3 L593.9 3484.1 L596.9 3485.8 L599.9 3487.6 L602.8 3489.3 L605.8 3491.1 L608.8 3492.8 L611.9 3494.5 L614.9 3496.2 L617.9 3497.9 L620.9 3499.6 L624.0 3501.2 L627.0 3502.9 L630.1 3504.5 L633.2 3506.1 L636.2 3507.8 L639.3 3509.4 L642.4 3511.0 L645.5 3512.6 L648.6 3514.1 L651.7 3515.7 L654.8 3517.2 L657.9 3518.8 L661.0 3520.3 L664.1 3521.8 L667.3 3523.3 L670.4 3524.8 L673.5 3526.3 L676.7 3527.8 L679.9 3529.3 L683.0 3530.7 L686.2 3532.2 L689.4 3533.6 L692.5 3535.0 L695.7 3536.5 L698.9 3537.9 L702.1 3539.3 L705.3 3540.6 L708.5 3542.0 L711.7 3543.4 L714.9 3544.7 L718.1 3546.1 L721.3 3547.4 L724.6 3548.7 L727.8 3550.0 L731.0 3551.4 L734.3 3552.6 L737.5 3553.9 L740.8 3555.2 L744.0 3556.5 L747.3 3557.7 L750.5 3559.0 L753.8 3560.2 L757.1 3561.5 L760.3 3562.7 L763.6 3563.9 L766.9 3565.1 L770.2 3566.3 L773.5 3567.5 L776.8 3568.6 L780.1 3569.8 L783.3 3571.0 L786.6 3572.1 L790.0 3573.2 L793.3 3574.4 L796.6 3575.5 L799.9 3576.6 L803.2 3577.7 L806.5 3578.8 L809.8 3579.9 L813.2 3581.0 L816.5 3582.1 L819.8 3583.1 L823.1 3584.2 L826.5 3585.2 L829.8 3586.3 L833.1 3587.3 L836.5 3588.3 L839.8 3589.3 L843.2 3590.3 L846.5 3591.3 L849.8 3592.3 L853.2 3593.3 L856.5 3594.3 L859.9 3595.2 L863.2 3596.2 L866.6 3597.2 L869.9 3598.1 L873.3 3599.0 L876.7 3600.0 L880.0 3600.9 L883.4 3601.8 L886.7 3602.7 L890.1 3603.6 L893.5 3604.5 L896.8 3605.4 L900.2 3606.3 L903.6 3607.1 L906.9 3608.0 L910.3 3608.9 L913.7 3609.7 L917.1 3610.6 L920.4 3611.4 L923.8 3612.2 L927.2 3613.1 L930.6 3613.9 L933.9 3614.7 L937.3 3615.5 L940.7 3616.3 L944.1 3617.1 L947.5 3617.9 L950.9 3618.6 L954.2 3619.4 L957.6 3620.2 L961.0 3620.9 L964.4 3621.7 L967.8 3622.4 L971.2 3623.2 L974.6 3623.9 L978.0 3624.6 L981.4 3625.4 L984.8 3626.1 L988.2 3626.8 L991.6 3627.5 L995.0 3628.2 L998.4 3628.9 L1001.8 3629.6 L1005.2 3630.3 L1008.6 3630.9 L1012.0 3631.6 L1015.4 3632.3 L1018.8 3632.9 L1022.2 3633.6 L1025.6 3634.2 L1029.0 3634.9 L1032.4 3635.5 L1035.8 3636.1 L1039.2 3636.8 L1042.7 3637.4 L1046.1 3638.0 L1049.5 3638.6 L1052.9 3639.2 L1056.3 3639.8 L1059.7 3640.4 L1063.2 3641.0 L1066.6 3641.6 L1070.0 3642.2 L1073.4 3642.8 L1076.8 3643.3 L1080.3 3643.9 L1083.7 3644.5 L1087.1 3645.0 L1090.5 3645.6 L1094.0 3646.1 L1097.4 3646.7 L1100.8 3647.2 L1104.3 3647.7 L1107.7 3648.3 L1111.1 3648.8 L1114.5 3649.3 L1118.0 3649.8 L1121.4 3650.3 L1124.8 3650.9 L1128.3 3651.4 L1131.7 3651.9 L1135.1 3652.4 L1138.6 3652.9 L1142.0 3653.3 L1145.5 3653.8 L1148.9 3654.3 L1152.3 3654.8 L1155.8 3655.3 L1159.2 3655.7 L1162.7 3656.2 L1166.1 3656.7 L1169.5 3657.1 L1173.0 3657.6 L1176.4 3658.0 L1179.9 3658.5 L1183.3 3658.9 L1186.8 3659.4 L1190.2 3659.8 L1193.6 3660.2 L1197.1 3660.7 L1200.5 3661.1 L1204.0 3661.5 L1207.4 3662.0 L1210.9 3662.4 L1214.3 3662.8 L1217.8 3663.2 L1221.2 3663.6 L1224.7 3664.0 L1228.1 3664.4 L1231.6 3664.8 L1235.0 3665.2 L1238.5 3665.6 L1241.9 3666.0 L1245.4 3666.4 L1248.9 3666.8 L1252.3 3667.2 L1255.8 3667.6 L1259.2 3668.0 L1262.7 3668.4 L1266.1 3668.7 L1269.6 3669.1 L1273.0 3669.5 L1276.5 3669.9 L1280.0 3670.2 L1283.4 3670.6 L1286.9 3671.0 L1290.3 3671.3 L1293.8 3671.7 L1297.2 3672.0 L1300.7 3672.4 L1304.2 3672.8 L1307.6 3673.1 L1311.1 3673.5 L1314.5 3673.8 L1318.0 3674.2 L1321.5 3674.5 L1324.9 3674.9 L1328.4 3675.2 L1331.8 3675.5 L1335.3 3675.9 L1338.8 3676.2 L1342.2 3676.6 L1345.7 3676.9 L1349.2 3677.2 L1352.6 3677.6 L1356.1 3677.9 L1359.5 3678.2 L1363.0 3678.6 L1366.5 3678.9 L1369.9 3679.2 L1373.4 3679.6 L1376.9 3679.9 L1380.3 3680.2 L1383.8 3680.5 L1387.2 3680.9 L1390.7 3681.2 L1394.2 3681.5 L1397.6 3681.8 L1401.1 3682.2 L1404.6 3682.5 L1408.0 3682.8 L1411.5 3683.1 L1414.9 3683.5 L1418.4 3683.8 L1421.9 3684.1 L1425.3 3684.4 L1428.8 3684.7 L1432.3 3685.1 L1435.7 3685.4 L1439.2 3685.7 L1442.7 3686.0 L1446.1 3686.3 L1449.6 3686.7 L1453.0 3687.0 L1456.5 3687.3 L1460.0 3687.6 L1463.4 3687.9 L1466.9 3688.3 L1470.4 3688.6 L1473.8 3688.9 L1477.3 3689.2 L1480.7 3689.6 L1484.2 3689.9 L1487.7 3690.2 L1491.1 3690.5 L1494.6 3690.8 L1498.0 3691.2 L1501.5 3691.5" fill="none" stroke="#f00" stroke-width="16.93" stroke-linejoin="round" shape-rendering="crispEdges"/>
<path d="M214.0 2820.0 L214.1 2823.4 L214.1 2826.7 L214.2 2830.1 L214.3 2833.5 L214.4 2836.8 L214.4 2840.2 L214.5 2843.6 L214.6 2847.0 L214.8 2850.4 L214.9 2853.8 L215.0 2857.2 L215.1 2860.6 L215.3 2864.0 L215.4 2867.4 L215.6 2870.8 L215.7 2874.3 L215.9 2877.7 L216.1 2881.1 L216.3 2884.5 L216.5 2887.9 L216.7 2891.4 L216.9 2894.8 L217.1 2898.2 L217.3 2901.7 L217.6 2905.1 L217.8 2908.5 L218.1 2912.0 L218.4 2915.4 L218.7 2918.8 L218.9 2922.3 L219.2 2925.7 L219.6 2929.2 L219.9 2932.6 L220.2 2936.0 L220.6 2939.5 L220.9 2942.9 L221.3 2946.4 L221.6 2949.8 L222.0 2953.3 L222.4 2956.7 L222.8 2960.1 L223.3 2963.6 L223.7 2967.0 L224.1 2970.4 L224.6 2973.9 L225.1 2977.3 L225.6 2980.7 L226.1 2984.2 L226.6 2987.6 L227.1 2991.0 L227.6 2994.4 L228.2 2997.9 L228.7 3001.3 L229.3 3004.7 L229.9 3008.1 L230.5 3011.5 L231.1 3014.9 L231.7 3018.3 L232.4 3021.7 L233.0 3025.1 L233.7 3028.5 L234.4 3031.9 L235.1 3035.3 L235.8 3038.7 L236.5 3042.0 L237.3 3045.4 L238.0 3048.8 L238.8 3052.1 L239.6 3055.5 L240.4 3058.8 L241.2 3062.2 L242.0 3065.5 L242.9 3068.9 L243.8 3072.2 L244.6 3075.5 L245.5 3078.8 L246.5 3082.1 L247.4 3085.4 L248.3 3088.7 L249.3 3092.0 L250.3 3095.3 L251.3 3098.6 L252.3 3101.9 L253.4 3105.1 L254.4 3108.4 L255.5 3111.7 L256.6 3114.9 L257.7 3118.1 L258.8 3121.4 L260.0 3124.6 L261.1 3127.8 L262.3 3131.0 L263.5 3134.2 L264.7 3137.4 L266.0 3140.6 L267.2 3143.7 L268.5 3146.9 L269.8 3150.1 L271.1 3153.2 L272.4 3156.3 L273.8 3159.5 L275.2 3162.6 L276.6 3165.7 L278.0 3168.8 L279.4 3171.9 L280.9 3174.9 L282.4 3178.0 L283.9 3181.1 L285.4 3184.1 L286.9 3187.1 L288.5 3190.2 L290.1 3193.2 L291.7 3196.2 L293.3 3199.2 L294.9 3202.1 L296.6 3205.1 L298.3 3208.1 L300.0 3211.0 L301.8 3213.9 L303.5 3216.9 L305.3 3219.8 L307.1 3222.7 L308.9 3225.5 L310.8 3228.4 L312.6 3231.3 L314.5 3234.1 L316.4 3236.9 L318.4 3239.7 L320.3 3242.5 L322.3 3245.3 L324.3 3248.1 L326.3 3250.9 L328.4 3253.6 L330.4 3256.4 L332.5 3259.1 L334.6 3261.8 L336.7 3264.5 L338.9 3267.2 L341.0 3269.8 L343.2 3272.5 L345.4 3275.1 L347.6 3277.7 L349.8 3280.3 L352.1 3282.9 L354.4 3285.5 L356.6 3288.1 L359.0 3290.6 L361.3 3293.1 L363.6 3295.6 L366.0 3298.1 L368.4 3300.6 L370.8 3303.1 L373.2 3305.5 L375.6 3308.0 L378.0 3310.4 L380.5 3312.8 L383.0 3315.2 L385.5 3317.5 L388.0 3319.9 L390.5 3322.2 L393.1 3324.5 L395.6 3326.8 L398.2 3329.1 L400.8 3331.4 L403.4 3333.6 L406.0 3335.8 L408.7 3338.0 L411.3 3340.2 L414.0 3342.4 L416.6 3344.6 L419.3 3346.7 L422.1 3348.8 L424.8 3350.9 L427.5 3353.0 L430.3 3355.1 L433.0 3357.1 L435.8 3359.1 L438.6 3361.1 L441.4 3363.1 L444.2 3365.1 L447.0 3367.1 L449.8 3369.0 L452.7 3370.9 L455.5 3372.9 L458.4 3374.7 L461.3 3376.6 L464.2 3378.5 L467.1 3380.3 L470.0 3382.2 L472.9 3384.0 L475.8 3385.8 L478.8 3387.6 L481.7 3389.3 L484.7 3391.1 L487.6 3392.8 L490.6 3394.5 L493.6 3396.2 L496.5 3397.9 L499.5 3399.6 L502.5 3401.3 L505.5 3402.9 L508.6 3404.6 L511.6 3406.2 L514.6 3407.8 L517.6 3409.4 L520.7 3411.0 L523.7 3412.6 L526.8 3414.1 L529.8 3415.7 L532.9 3417.2 L536.0 3418.7 L539.0 3420.2 L542.1 3421.7 L545.2 3423.2 L548.3 3424.7 L551.4 3426.1 L554.5 3427.6 L557.6 3429.0 L560.7 3430.4 L563.8 3431.8 L566.9 3433.2 L570.1 3434.6 L573.2 3436.0 L576.3 3437.3 L579.5 3438.7 L582.6 3440.0 L585.8 3441.3 L588.9 3442.6 L592.1 3443.9 L595.3 3445.2 L598.4 3446.5 L601.6 3447.8 L604.8 3449.0 L608.0 3450.3 L611.2 3451.5 L614.4 3452.8 L617.6 3454.0 L620.8 3455.2 L624.0 3456.4 L627.2 3457.6 L630.4 3458.7 L633.6 3459.9 L636.8 3461.1 L640.1 3462.2 L643.3 3463.3 L646.5 3464.5 L649.8 3465.6 L653.0 3466.7 L656.3 3467.8 L659.5 3468.9 L662.8 3470.0 L666.0 3471.0 L669.3 3472.1 L672.6 3473.1 L675.8 3474.2 L679.1 3475.2 L682.4 3476.3 L685.7 3477.3 L688.9 3478.3 L692.2 3479.3 L695.5 3480.3 L698.8 3481.3 L702.1 3482.2 L705.4 3483.2 L708.7 3484.2 L712.0 3485.1 L715.3 3486.1 L718.6 3487.0 L721.9 3487.9 L725.2 3488.9 L728.5 3489.8 L731.9 3490.7 L735.2 3491.6 L738.5 3492.5 L741.8 3493.4 L745.1 3494.3 L748.5 3495.1 L751.8 3496.0 L755.1 3496.9 L758.5 3497.7 L761.8 3498.6 L765.1 3499.4 L768.5 3500.3 L771.8 3501.1 L775.2 3501.9 L778.5 3502.7 L781.9 3503.6 L785.2 3504.4 L788.6 3505.2 L791.9 3506.0 L795.3 3506.8 L798.6 3507.5 L802.0 3508.3 L805.3 3509.1 L808.7 3509.9 L812.0 3510.6 L815.4 3511.4 L818.8 3512.1 L822.1 3512.9 L825.5 3513.6 L828.9 3514.4 L832.2 3515.1 L835.6 3515.9 L839.0 3516.6 L842.3 3517.3 L845.7 3518.0 L849.1 3518.8 L852.4 3519.5 L855.8 3520.2 L859.2 3520.9 L862.5 3521.6 L865.9 3522.3 L869.3 3523.0 L872.6 3523.7 L876.0 3524.4 L879.4 3525.1 L882.7 3525.7 L886.1 3526.4 L889.5 3527.1 L892.9 3527.8 L896.2 3528.4 L899.6 3529.1 L903.0 3529.8 L906.3 3530.4 L909.7 3531.1 L913.1 3531.7 L916.5 3532.4 L919.8 3533.0 L923.2 3533.7 L926.6 3534.3 L930.0 3534.9 L933.3 3535.6 L936.7 3536.2 L940.1 3536.8 L943.5 3537.5 L946.8 3538.1 L950.2 3538.7 L953.6 3539.3 L957.0 3539.9 L960.3 3540.5 L963.7 3541.1 L967.1 3541.7 L970.5 3542.3 L973.8 3542.9 L977.2 3543.5 L980.6 3544.1 L984.0 3544.7 L987.4 3545.3 L990.7 3545.9 L994.1 3546.4 L997.5 3547.0 L1000.9 3547.6 L1004.3 3548.2 L1007.6 3548.7 L1011.0 3549.3 L1014.4 3549.8 L1017.8 3550.4 L1021.2 3551.0 L1024.5 3551.5 L1027.9 3552.1 L1031.3 3552.6 L1034.7 3553.1 L1038.1 3553.7 L1041.5 3554.2 L1044.8 3554.7 L1048.2 3555.3 L1051.6 3555.8 L1055.0 3556.3 L1058.4 3556.9 L1061.8 3557.4 L1065.1 3557.9 L1068.5 3558.4 L1071.9 3558.9 L1075.3 3559.4 L1078.7 3559.9 L1082.1 3560.4 L1085.5 3560.9 L1088.8 3561.4 L1092.2 3561.9 L1095.6 3562.4 L1099.0 3562.9 L1102.4 3563.4 L1105.8 3563.9 L1109.2 3564.4 L1112.6 3564.8 L1116.0 3565.3 L1119.3 3565.8 L1122.7 3566.3 L1126.1 3566.7 L1129.5 3567.2 L1132.9 3567.7 L1136.3 3568.1 L1139.7 3568.6 L1143.1 3569.0 L1146.5 3569.5 L1149.9 3569.9 L1153.3 3570.4 L1156.7 3570.8 L1160.1 3571.3 L1163.5 3571.7 L1166.9 3572.2 L1170.2 3572.6 L1173.6 3573.0 L1177.0 3573.5 L1180.4 3573.9 L1183.8 3574.3 L1187.2 3574.7 L1190.6 3575.2 L1194.0 3575.6 L1197.4 3576.0 L1200.8 3576.4 L1204.2 3576.8 L1207.6 3577.2 L1211.0 3577.6 L1214.4 3578.0 L1217.8 3578.4 L1221.2 3578.8 L1224.6 3579.2 L1228.0 3579.6 L1231.4 3580.0 L1234.8 3580.4 L1238.2 3580.8 L1241.6 3581.2 L1245.0 3581.6 L1248.4 3582.0 L1251.8 3582.3 L1255.3 3582.7 L1258.7 3583.1 L1262.1 3583.5 L1265.5 3583.8 L1268.9 3584.2 L1272.3 3584.6 L1275.7 3584.9 L1279.1 3585.3 L1282.5 3585.7 L1285.9 3586.0 L1289.3 3586.4 L1292.7 3586.7 L1296.1 3587.1 L1299.6 3587.5 L1303.0 3587.8 L1306.4 3588.1 L1309.8 3588.5 L1313.2 3588.8 L1316.6 3589.2 L1320.0 3589.5 L1323.4 3589.9 L1326.8 3590.2 L1330.3 3590.5 L1333.7 3590.9 L1337.1 3591.2 L1340.5 3591.5 L1343.9 3591.8 L1347.3 3592.2 L1350.7 3592.5 L1354.2 3592.8 L1357.6 3593.1 L1361.0 3593.4 L1364.4 3593.8 L1367.8 3594.1 L1371.3 3594.4 L1374.7 3594.7 L1378.1 3595.0 L1381.5 3595.3 L1384.9 3595.6 L1388.4 3595.9 L1391.8 3596.2 L1395.2 3596.5 L1398.6 3596.8 L1402.0 3597.1 L1405.5 3597.4 L1408.9 3597.7 L1412.3 3598.0 L1415.7 3598.3 L1419.2 3598.6 L1422.6 3598.8 L1426.0 3599.1 L1429.4 3599.4 L1432.9 3599.7 L1436.3 3600.0 L1439.7 3600.3 L1443.2 3600.5 L1446.6 3600.8 L1450.0 3601.1 L1453.4 3601.3 L1456.9 3601.6 L1460.3 3601.9 L1463.7 3602.2 L1467.2 3602.4 L1470.6 3602.7 L1474.0 3602.9 L1477.5 3603.2 L1480.9 3603.5 L1484.3 3603.7 L1487.8 3604.0 L1491.2 3604.2 L1494.6 3604.5 L1498.1 3604.7 L1501.5 3605.0" fill="none" stroke="#00f" stroke-width="16.93" stroke-linejoin="round" shape-rendering="crispEdges"/>
<rect x="1224" y="2852" width="245" height="150" fill="#fff" stroke="#262626" stroke-width="2"/>
<path d="M1235 2880 H1354" stroke="#000" stroke-width="16"/>
<text transform="translate(1363 2894.9) scale(1 1.035)" font-size="34.27" fill="#000"><tspan class="psi" font-size="39.3">ψ</tspan><tspan dx="0.3" dy="3.3" stroke="#000" stroke-width="0.5">=</tspan><tspan dy="-3.3">1</tspan></text>
<path d="M1235 2926.5 H1354" stroke="#f00" stroke-width="17"/>
<text transform="translate(1363 2941.4) scale(1 1.035)" font-size="34.27" fill="#000"><tspan class="psi" font-size="39.3">ψ</tspan><tspan dx="0.3" dy="3.3" stroke="#000" stroke-width="0.5">=</tspan><tspan dy="-3.3">0.8</tspan></text>
<path d="M1235 2973.5 H1354" stroke="#00f" stroke-width="17"/>
<text transform="translate(1363 2988.4) scale(1 1.035)" font-size="34.27" fill="#000"><tspan class="psi" font-size="39.3">ψ</tspan><tspan dx="0.3" dy="3.3" stroke="#000" stroke-width="0.5">=</tspan><tspan dy="-3.3">0.6</tspan></text>
<g class="cap"><text transform="translate(851.5 4097.5) scale(0.87 1)" text-anchor="end" font-size="78.2">(</text><text transform="translate(868.3 4098.2) scale(1.03 1)" text-anchor="middle" class="capb">c</text><text transform="translate(884.1 4097.5) scale(0.87 1)" text-anchor="start" font-size="78.2">)</text></g>
</svg>
</body></html>
